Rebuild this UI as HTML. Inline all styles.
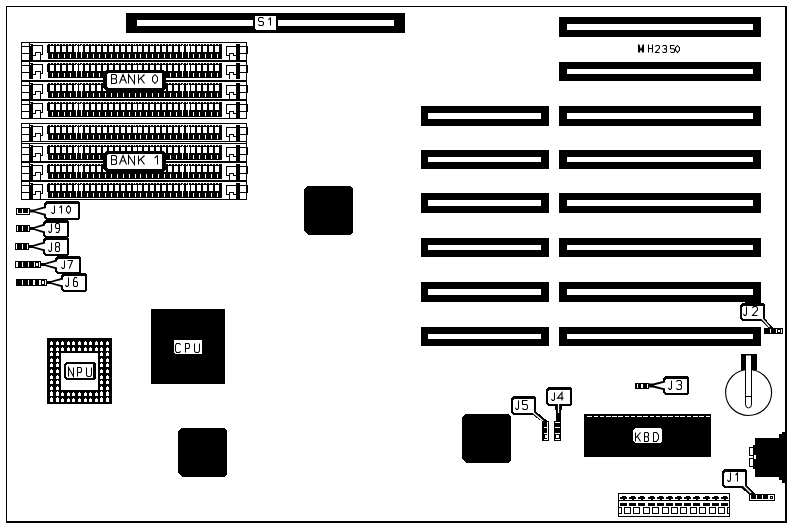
<!DOCTYPE html>
<html><head><meta charset="utf-8"><style>
html,body{margin:0;padding:0;background:#fff;}
svg{display:block;}
</style></head><body>
<svg width="791" height="527" viewBox="0 0 791 527" shape-rendering="crispEdges">
<rect x="0" y="0" width="791" height="527" fill="#fff"/>
<rect x="6" y="6" width="781" height="1" fill="#000"/>
<rect x="6" y="6" width="1" height="517" fill="#000"/>
<rect x="785" y="6" width="2" height="517" fill="#000"/>
<rect x="6" y="521" width="781" height="2" fill="#000"/>
<rect x="126" y="13" width="279" height="20" fill="#000"/>
<rect x="137" y="20" width="257" height="6" fill="#fff"/>
<rect x="253" y="17" width="25" height="15" fill="#000"/>
<polygon points="256,16 275,16 276,17 276,29 275,30 256,30 255,29 255,17" fill="#fff"/>
<rect x="255" y="16" width="21" height="5" fill="#fff"/>
<path d="M263.50,18.70 L262.50,17.50 L259.50,17.50 L258.50,18.70 L258.50,20.54 L259.50,21.50 L262.50,21.50 L263.50,22.46 L263.50,24.30 L262.50,25.50 L259.50,25.50 L258.50,24.30 M268.50,19.90 L270.50,17.50 M270.50,17.50 L270.50,25.50" fill="none" stroke="#000" stroke-width="1.05" stroke-linejoin="miter" shape-rendering="geometricPrecision"/>
<rect x="559" y="17" width="202" height="20" fill="#000"/>
<rect x="567" y="24" width="186" height="6" fill="#fff"/>
<rect x="559" y="62" width="202" height="19" fill="#000"/>
<rect x="567" y="69" width="186" height="5" fill="#fff"/>
<rect x="559" y="106" width="202" height="20" fill="#000"/>
<rect x="567" y="113" width="186" height="6" fill="#fff"/>
<rect x="421" y="106" width="128" height="20" fill="#000"/>
<rect x="428" y="113" width="113" height="6" fill="#fff"/>
<rect x="559" y="150" width="202" height="19" fill="#000"/>
<rect x="567" y="157" width="186" height="5" fill="#fff"/>
<rect x="421" y="150" width="128" height="19" fill="#000"/>
<rect x="428" y="157" width="113" height="5" fill="#fff"/>
<rect x="559" y="193" width="202" height="20" fill="#000"/>
<rect x="567" y="200" width="186" height="6" fill="#fff"/>
<rect x="421" y="193" width="128" height="20" fill="#000"/>
<rect x="428" y="200" width="113" height="6" fill="#fff"/>
<rect x="559" y="238" width="202" height="19" fill="#000"/>
<rect x="567" y="245" width="186" height="5" fill="#fff"/>
<rect x="421" y="238" width="128" height="19" fill="#000"/>
<rect x="428" y="245" width="113" height="5" fill="#fff"/>
<rect x="559" y="282" width="202" height="20" fill="#000"/>
<rect x="567" y="289" width="186" height="6" fill="#fff"/>
<rect x="421" y="282" width="128" height="20" fill="#000"/>
<rect x="428" y="289" width="113" height="6" fill="#fff"/>
<rect x="559" y="327" width="202" height="19" fill="#000"/>
<rect x="567" y="334" width="186" height="5" fill="#fff"/>
<rect x="421" y="327" width="128" height="19" fill="#000"/>
<rect x="428" y="334" width="113" height="5" fill="#fff"/>
<path d="M638.50,52.50 L638.50,44.50 L641.00,50.50 L643.50,44.50 L643.50,52.50 M639.50,45.30 L639.50,52.50 M642.50,45.30 L642.50,52.50 M648.50,44.50 L648.50,52.50 M652.50,44.50 L652.50,52.50 M648.50,48.50 L652.50,48.50" fill="none" stroke="#000" stroke-width="1.05" stroke-linejoin="miter" shape-rendering="geometricPrecision"/>
<path d="M655.50,46.76 L656.30,45.50 L658.70,45.50 L659.50,46.76 L659.50,48.16 L655.50,52.50 L659.50,52.50 M662.50,46.55 L663.30,45.50 L665.70,45.50 L666.50,46.55 L666.50,48.02 L665.70,48.86 L663.90,48.86 M665.70,48.86 L666.50,49.70 L666.50,51.45 L665.70,52.50 L663.30,52.50 L662.50,51.45 M674.50,45.50 L670.50,45.50 L670.50,48.65 L673.70,48.65 L674.50,49.70 L674.50,51.45 L673.70,52.50 L671.30,52.50 L670.50,51.45 M677.50,45.50 L679.50,47.60 L679.50,50.40 L677.50,52.50 L675.50,50.40 L675.50,47.60 L677.50,45.50" fill="none" stroke="#000" stroke-width="1.05" stroke-linejoin="miter" shape-rendering="geometricPrecision"/>
<rect x="21" y="42" width="226" height="1" fill="#000"/>
<rect x="21" y="42" width="1" height="77" fill="#000"/>
<rect x="246" y="42" width="1" height="77" fill="#000"/>
<rect x="21" y="46" width="9" height="1" fill="#000"/>
<rect x="21" y="53" width="9" height="1" fill="#000"/>
<rect x="29" y="42" width="1" height="18" fill="#000"/>
<rect x="30" y="44" width="3" height="16" fill="#000"/>
<rect x="30" y="45" width="1" height="1" fill="#fff"/>
<rect x="32" y="45" width="11" height="1" fill="#000"/>
<rect x="42" y="45" width="1" height="10" fill="#000"/>
<rect x="40" y="54" width="3" height="1" fill="#000"/>
<rect x="40" y="52" width="1" height="8" fill="#000"/>
<rect x="35" y="52" width="6" height="1" fill="#000"/>
<rect x="35" y="52" width="1" height="4" fill="#000"/>
<rect x="32" y="55" width="4" height="1" fill="#000"/>
<rect x="48" y="44" width="174" height="15" fill="#000"/>
<rect x="47" y="45" width="1" height="8" fill="#000"/>
<rect x="50" y="44" width="1" height="1" fill="#fff"/>
<rect x="53" y="44" width="1" height="1" fill="#fff"/>
<rect x="56" y="44" width="1" height="1" fill="#fff"/>
<rect x="59" y="44" width="1" height="1" fill="#fff"/>
<rect x="62" y="44" width="1" height="1" fill="#fff"/>
<rect x="65" y="44" width="1" height="1" fill="#fff"/>
<rect x="68" y="44" width="1" height="1" fill="#fff"/>
<rect x="71" y="44" width="1" height="1" fill="#fff"/>
<rect x="74" y="44" width="1" height="1" fill="#fff"/>
<rect x="77" y="44" width="1" height="1" fill="#fff"/>
<rect x="79" y="44" width="1" height="1" fill="#fff"/>
<rect x="82" y="44" width="1" height="1" fill="#fff"/>
<rect x="85" y="44" width="1" height="1" fill="#fff"/>
<rect x="88" y="44" width="1" height="1" fill="#fff"/>
<rect x="91" y="44" width="1" height="1" fill="#fff"/>
<rect x="94" y="44" width="1" height="1" fill="#fff"/>
<rect x="97" y="44" width="1" height="1" fill="#fff"/>
<rect x="100" y="44" width="1" height="1" fill="#fff"/>
<rect x="103" y="44" width="1" height="1" fill="#fff"/>
<rect x="106" y="44" width="1" height="1" fill="#fff"/>
<rect x="109" y="44" width="1" height="1" fill="#fff"/>
<rect x="112" y="44" width="1" height="1" fill="#fff"/>
<rect x="115" y="44" width="1" height="1" fill="#fff"/>
<rect x="118" y="44" width="1" height="1" fill="#fff"/>
<rect x="121" y="44" width="1" height="1" fill="#fff"/>
<rect x="124" y="44" width="1" height="1" fill="#fff"/>
<rect x="127" y="44" width="1" height="1" fill="#fff"/>
<rect x="130" y="44" width="1" height="1" fill="#fff"/>
<rect x="133" y="44" width="1" height="1" fill="#fff"/>
<rect x="135" y="44" width="1" height="1" fill="#fff"/>
<rect x="138" y="44" width="1" height="1" fill="#fff"/>
<rect x="141" y="44" width="1" height="1" fill="#fff"/>
<rect x="144" y="44" width="1" height="1" fill="#fff"/>
<rect x="147" y="44" width="1" height="1" fill="#fff"/>
<rect x="150" y="44" width="1" height="1" fill="#fff"/>
<rect x="153" y="44" width="1" height="1" fill="#fff"/>
<rect x="156" y="44" width="1" height="1" fill="#fff"/>
<rect x="159" y="44" width="1" height="1" fill="#fff"/>
<rect x="162" y="44" width="1" height="1" fill="#fff"/>
<rect x="165" y="44" width="1" height="1" fill="#fff"/>
<rect x="168" y="44" width="1" height="1" fill="#fff"/>
<rect x="171" y="44" width="1" height="1" fill="#fff"/>
<rect x="174" y="44" width="1" height="1" fill="#fff"/>
<rect x="177" y="44" width="1" height="1" fill="#fff"/>
<rect x="180" y="44" width="1" height="1" fill="#fff"/>
<rect x="183" y="44" width="1" height="1" fill="#fff"/>
<rect x="186" y="44" width="1" height="1" fill="#fff"/>
<rect x="188" y="44" width="1" height="1" fill="#fff"/>
<rect x="191" y="44" width="1" height="1" fill="#fff"/>
<rect x="194" y="44" width="1" height="1" fill="#fff"/>
<rect x="197" y="44" width="1" height="1" fill="#fff"/>
<rect x="200" y="44" width="1" height="1" fill="#fff"/>
<rect x="203" y="44" width="1" height="1" fill="#fff"/>
<rect x="206" y="44" width="1" height="1" fill="#fff"/>
<rect x="209" y="44" width="1" height="1" fill="#fff"/>
<rect x="212" y="44" width="1" height="1" fill="#fff"/>
<rect x="215" y="44" width="1" height="1" fill="#fff"/>
<rect x="218" y="44" width="1" height="1" fill="#fff"/>
<rect x="50" y="46" width="4" height="6" fill="#fff"/>
<rect x="52" y="54" width="1" height="4" fill="#fff"/>
<rect x="56" y="46" width="4" height="6" fill="#fff"/>
<rect x="58" y="54" width="1" height="4" fill="#fff"/>
<rect x="62" y="46" width="4" height="6" fill="#fff"/>
<rect x="64" y="54" width="1" height="4" fill="#fff"/>
<rect x="68" y="46" width="4" height="6" fill="#fff"/>
<rect x="70" y="54" width="1" height="4" fill="#fff"/>
<rect x="74" y="46" width="4" height="6" fill="#fff"/>
<rect x="76" y="54" width="1" height="4" fill="#fff"/>
<rect x="76" y="52" width="1" height="2" fill="#fff"/>
<rect x="76" y="45" width="1" height="1" fill="#fff"/>
<rect x="79" y="46" width="4" height="6" fill="#fff"/>
<rect x="81" y="54" width="1" height="4" fill="#fff"/>
<rect x="81" y="52" width="1" height="2" fill="#fff"/>
<rect x="81" y="45" width="1" height="1" fill="#fff"/>
<rect x="85" y="46" width="4" height="6" fill="#fff"/>
<rect x="87" y="54" width="1" height="4" fill="#fff"/>
<rect x="91" y="46" width="4" height="6" fill="#fff"/>
<rect x="93" y="54" width="1" height="4" fill="#fff"/>
<rect x="97" y="46" width="4" height="6" fill="#fff"/>
<rect x="99" y="54" width="1" height="4" fill="#fff"/>
<rect x="103" y="46" width="4" height="6" fill="#fff"/>
<rect x="105" y="54" width="1" height="4" fill="#fff"/>
<rect x="109" y="46" width="4" height="6" fill="#fff"/>
<rect x="111" y="54" width="1" height="4" fill="#fff"/>
<rect x="115" y="46" width="4" height="6" fill="#fff"/>
<rect x="117" y="54" width="1" height="4" fill="#fff"/>
<rect x="121" y="46" width="4" height="6" fill="#fff"/>
<rect x="123" y="54" width="1" height="4" fill="#fff"/>
<rect x="127" y="46" width="4" height="6" fill="#fff"/>
<rect x="129" y="54" width="1" height="4" fill="#fff"/>
<rect x="133" y="46" width="4" height="6" fill="#fff"/>
<rect x="135" y="54" width="1" height="4" fill="#fff"/>
<rect x="138" y="46" width="4" height="6" fill="#fff"/>
<rect x="140" y="54" width="1" height="4" fill="#fff"/>
<rect x="144" y="46" width="4" height="6" fill="#fff"/>
<rect x="146" y="54" width="1" height="4" fill="#fff"/>
<rect x="150" y="46" width="4" height="6" fill="#fff"/>
<rect x="152" y="54" width="1" height="4" fill="#fff"/>
<rect x="156" y="46" width="4" height="6" fill="#fff"/>
<rect x="158" y="54" width="1" height="4" fill="#fff"/>
<rect x="162" y="46" width="4" height="6" fill="#fff"/>
<rect x="164" y="54" width="1" height="4" fill="#fff"/>
<rect x="168" y="46" width="4" height="6" fill="#fff"/>
<rect x="170" y="54" width="1" height="4" fill="#fff"/>
<rect x="174" y="46" width="4" height="6" fill="#fff"/>
<rect x="176" y="54" width="1" height="4" fill="#fff"/>
<rect x="180" y="46" width="4" height="6" fill="#fff"/>
<rect x="182" y="54" width="1" height="4" fill="#fff"/>
<rect x="182" y="52" width="1" height="2" fill="#fff"/>
<rect x="182" y="45" width="1" height="1" fill="#fff"/>
<rect x="186" y="46" width="4" height="6" fill="#fff"/>
<rect x="188" y="54" width="1" height="4" fill="#fff"/>
<rect x="188" y="52" width="1" height="2" fill="#fff"/>
<rect x="188" y="45" width="1" height="1" fill="#fff"/>
<rect x="191" y="46" width="4" height="6" fill="#fff"/>
<rect x="193" y="54" width="1" height="4" fill="#fff"/>
<rect x="197" y="46" width="4" height="6" fill="#fff"/>
<rect x="199" y="54" width="1" height="4" fill="#fff"/>
<rect x="203" y="46" width="4" height="6" fill="#fff"/>
<rect x="205" y="54" width="1" height="4" fill="#fff"/>
<rect x="209" y="46" width="4" height="6" fill="#fff"/>
<rect x="211" y="54" width="1" height="4" fill="#fff"/>
<rect x="215" y="46" width="4" height="6" fill="#fff"/>
<rect x="217" y="54" width="1" height="4" fill="#fff"/>
<rect x="226" y="46" width="11" height="1" fill="#000"/>
<rect x="226" y="46" width="1" height="10" fill="#000"/>
<rect x="226" y="55" width="4" height="1" fill="#000"/>
<rect x="229" y="53" width="1" height="7" fill="#000"/>
<rect x="229" y="53" width="5" height="1" fill="#000"/>
<rect x="233" y="53" width="1" height="3" fill="#000"/>
<rect x="233" y="55" width="4" height="1" fill="#000"/>
<rect x="236" y="44" width="4" height="16" fill="#000"/>
<rect x="239" y="46" width="9" height="1" fill="#000"/>
<rect x="239" y="53" width="9" height="1" fill="#000"/>
<rect x="247" y="46" width="1" height="8" fill="#000"/>
<rect x="21" y="65" width="9" height="1" fill="#000"/>
<rect x="21" y="72" width="9" height="1" fill="#000"/>
<rect x="29" y="61" width="1" height="18" fill="#000"/>
<rect x="30" y="63" width="3" height="16" fill="#000"/>
<rect x="30" y="64" width="1" height="1" fill="#fff"/>
<rect x="32" y="64" width="11" height="1" fill="#000"/>
<rect x="42" y="64" width="1" height="10" fill="#000"/>
<rect x="40" y="73" width="3" height="1" fill="#000"/>
<rect x="40" y="71" width="1" height="8" fill="#000"/>
<rect x="35" y="71" width="6" height="1" fill="#000"/>
<rect x="35" y="71" width="1" height="4" fill="#000"/>
<rect x="32" y="74" width="4" height="1" fill="#000"/>
<rect x="48" y="63" width="174" height="15" fill="#000"/>
<rect x="47" y="64" width="1" height="8" fill="#000"/>
<rect x="50" y="63" width="1" height="1" fill="#fff"/>
<rect x="53" y="63" width="1" height="1" fill="#fff"/>
<rect x="56" y="63" width="1" height="1" fill="#fff"/>
<rect x="59" y="63" width="1" height="1" fill="#fff"/>
<rect x="62" y="63" width="1" height="1" fill="#fff"/>
<rect x="65" y="63" width="1" height="1" fill="#fff"/>
<rect x="68" y="63" width="1" height="1" fill="#fff"/>
<rect x="71" y="63" width="1" height="1" fill="#fff"/>
<rect x="74" y="63" width="1" height="1" fill="#fff"/>
<rect x="77" y="63" width="1" height="1" fill="#fff"/>
<rect x="79" y="63" width="1" height="1" fill="#fff"/>
<rect x="82" y="63" width="1" height="1" fill="#fff"/>
<rect x="85" y="63" width="1" height="1" fill="#fff"/>
<rect x="88" y="63" width="1" height="1" fill="#fff"/>
<rect x="91" y="63" width="1" height="1" fill="#fff"/>
<rect x="94" y="63" width="1" height="1" fill="#fff"/>
<rect x="97" y="63" width="1" height="1" fill="#fff"/>
<rect x="100" y="63" width="1" height="1" fill="#fff"/>
<rect x="103" y="63" width="1" height="1" fill="#fff"/>
<rect x="106" y="63" width="1" height="1" fill="#fff"/>
<rect x="109" y="63" width="1" height="1" fill="#fff"/>
<rect x="112" y="63" width="1" height="1" fill="#fff"/>
<rect x="115" y="63" width="1" height="1" fill="#fff"/>
<rect x="118" y="63" width="1" height="1" fill="#fff"/>
<rect x="121" y="63" width="1" height="1" fill="#fff"/>
<rect x="124" y="63" width="1" height="1" fill="#fff"/>
<rect x="127" y="63" width="1" height="1" fill="#fff"/>
<rect x="130" y="63" width="1" height="1" fill="#fff"/>
<rect x="133" y="63" width="1" height="1" fill="#fff"/>
<rect x="135" y="63" width="1" height="1" fill="#fff"/>
<rect x="138" y="63" width="1" height="1" fill="#fff"/>
<rect x="141" y="63" width="1" height="1" fill="#fff"/>
<rect x="144" y="63" width="1" height="1" fill="#fff"/>
<rect x="147" y="63" width="1" height="1" fill="#fff"/>
<rect x="150" y="63" width="1" height="1" fill="#fff"/>
<rect x="153" y="63" width="1" height="1" fill="#fff"/>
<rect x="156" y="63" width="1" height="1" fill="#fff"/>
<rect x="159" y="63" width="1" height="1" fill="#fff"/>
<rect x="162" y="63" width="1" height="1" fill="#fff"/>
<rect x="165" y="63" width="1" height="1" fill="#fff"/>
<rect x="168" y="63" width="1" height="1" fill="#fff"/>
<rect x="171" y="63" width="1" height="1" fill="#fff"/>
<rect x="174" y="63" width="1" height="1" fill="#fff"/>
<rect x="177" y="63" width="1" height="1" fill="#fff"/>
<rect x="180" y="63" width="1" height="1" fill="#fff"/>
<rect x="183" y="63" width="1" height="1" fill="#fff"/>
<rect x="186" y="63" width="1" height="1" fill="#fff"/>
<rect x="188" y="63" width="1" height="1" fill="#fff"/>
<rect x="191" y="63" width="1" height="1" fill="#fff"/>
<rect x="194" y="63" width="1" height="1" fill="#fff"/>
<rect x="197" y="63" width="1" height="1" fill="#fff"/>
<rect x="200" y="63" width="1" height="1" fill="#fff"/>
<rect x="203" y="63" width="1" height="1" fill="#fff"/>
<rect x="206" y="63" width="1" height="1" fill="#fff"/>
<rect x="209" y="63" width="1" height="1" fill="#fff"/>
<rect x="212" y="63" width="1" height="1" fill="#fff"/>
<rect x="215" y="63" width="1" height="1" fill="#fff"/>
<rect x="218" y="63" width="1" height="1" fill="#fff"/>
<rect x="50" y="65" width="4" height="6" fill="#fff"/>
<rect x="52" y="73" width="1" height="4" fill="#fff"/>
<rect x="56" y="65" width="4" height="6" fill="#fff"/>
<rect x="58" y="73" width="1" height="4" fill="#fff"/>
<rect x="62" y="65" width="4" height="6" fill="#fff"/>
<rect x="64" y="73" width="1" height="4" fill="#fff"/>
<rect x="68" y="65" width="4" height="6" fill="#fff"/>
<rect x="70" y="73" width="1" height="4" fill="#fff"/>
<rect x="74" y="65" width="4" height="6" fill="#fff"/>
<rect x="76" y="73" width="1" height="4" fill="#fff"/>
<rect x="76" y="71" width="1" height="2" fill="#fff"/>
<rect x="76" y="64" width="1" height="1" fill="#fff"/>
<rect x="79" y="65" width="4" height="6" fill="#fff"/>
<rect x="81" y="73" width="1" height="4" fill="#fff"/>
<rect x="81" y="71" width="1" height="2" fill="#fff"/>
<rect x="81" y="64" width="1" height="1" fill="#fff"/>
<rect x="85" y="65" width="4" height="6" fill="#fff"/>
<rect x="87" y="73" width="1" height="4" fill="#fff"/>
<rect x="91" y="65" width="4" height="6" fill="#fff"/>
<rect x="93" y="73" width="1" height="4" fill="#fff"/>
<rect x="97" y="65" width="4" height="6" fill="#fff"/>
<rect x="99" y="73" width="1" height="4" fill="#fff"/>
<rect x="103" y="65" width="4" height="6" fill="#fff"/>
<rect x="105" y="73" width="1" height="4" fill="#fff"/>
<rect x="109" y="65" width="4" height="6" fill="#fff"/>
<rect x="111" y="73" width="1" height="4" fill="#fff"/>
<rect x="115" y="65" width="4" height="6" fill="#fff"/>
<rect x="117" y="73" width="1" height="4" fill="#fff"/>
<rect x="121" y="65" width="4" height="6" fill="#fff"/>
<rect x="123" y="73" width="1" height="4" fill="#fff"/>
<rect x="127" y="65" width="4" height="6" fill="#fff"/>
<rect x="129" y="73" width="1" height="4" fill="#fff"/>
<rect x="133" y="65" width="4" height="6" fill="#fff"/>
<rect x="135" y="73" width="1" height="4" fill="#fff"/>
<rect x="138" y="65" width="4" height="6" fill="#fff"/>
<rect x="140" y="73" width="1" height="4" fill="#fff"/>
<rect x="144" y="65" width="4" height="6" fill="#fff"/>
<rect x="146" y="73" width="1" height="4" fill="#fff"/>
<rect x="150" y="65" width="4" height="6" fill="#fff"/>
<rect x="152" y="73" width="1" height="4" fill="#fff"/>
<rect x="156" y="65" width="4" height="6" fill="#fff"/>
<rect x="158" y="73" width="1" height="4" fill="#fff"/>
<rect x="162" y="65" width="4" height="6" fill="#fff"/>
<rect x="164" y="73" width="1" height="4" fill="#fff"/>
<rect x="168" y="65" width="4" height="6" fill="#fff"/>
<rect x="170" y="73" width="1" height="4" fill="#fff"/>
<rect x="174" y="65" width="4" height="6" fill="#fff"/>
<rect x="176" y="73" width="1" height="4" fill="#fff"/>
<rect x="180" y="65" width="4" height="6" fill="#fff"/>
<rect x="182" y="73" width="1" height="4" fill="#fff"/>
<rect x="182" y="71" width="1" height="2" fill="#fff"/>
<rect x="182" y="64" width="1" height="1" fill="#fff"/>
<rect x="186" y="65" width="4" height="6" fill="#fff"/>
<rect x="188" y="73" width="1" height="4" fill="#fff"/>
<rect x="188" y="71" width="1" height="2" fill="#fff"/>
<rect x="188" y="64" width="1" height="1" fill="#fff"/>
<rect x="191" y="65" width="4" height="6" fill="#fff"/>
<rect x="193" y="73" width="1" height="4" fill="#fff"/>
<rect x="197" y="65" width="4" height="6" fill="#fff"/>
<rect x="199" y="73" width="1" height="4" fill="#fff"/>
<rect x="203" y="65" width="4" height="6" fill="#fff"/>
<rect x="205" y="73" width="1" height="4" fill="#fff"/>
<rect x="209" y="65" width="4" height="6" fill="#fff"/>
<rect x="211" y="73" width="1" height="4" fill="#fff"/>
<rect x="215" y="65" width="4" height="6" fill="#fff"/>
<rect x="217" y="73" width="1" height="4" fill="#fff"/>
<rect x="226" y="65" width="11" height="1" fill="#000"/>
<rect x="226" y="65" width="1" height="10" fill="#000"/>
<rect x="226" y="74" width="4" height="1" fill="#000"/>
<rect x="229" y="72" width="1" height="7" fill="#000"/>
<rect x="229" y="72" width="5" height="1" fill="#000"/>
<rect x="233" y="72" width="1" height="3" fill="#000"/>
<rect x="233" y="74" width="4" height="1" fill="#000"/>
<rect x="236" y="63" width="4" height="16" fill="#000"/>
<rect x="239" y="65" width="9" height="1" fill="#000"/>
<rect x="239" y="72" width="9" height="1" fill="#000"/>
<rect x="247" y="65" width="1" height="8" fill="#000"/>
<rect x="21" y="85" width="9" height="1" fill="#000"/>
<rect x="21" y="92" width="9" height="1" fill="#000"/>
<rect x="29" y="81" width="1" height="18" fill="#000"/>
<rect x="30" y="83" width="3" height="16" fill="#000"/>
<rect x="30" y="84" width="1" height="1" fill="#fff"/>
<rect x="32" y="84" width="11" height="1" fill="#000"/>
<rect x="42" y="84" width="1" height="10" fill="#000"/>
<rect x="40" y="93" width="3" height="1" fill="#000"/>
<rect x="40" y="91" width="1" height="8" fill="#000"/>
<rect x="35" y="91" width="6" height="1" fill="#000"/>
<rect x="35" y="91" width="1" height="4" fill="#000"/>
<rect x="32" y="94" width="4" height="1" fill="#000"/>
<rect x="48" y="83" width="174" height="15" fill="#000"/>
<rect x="47" y="84" width="1" height="8" fill="#000"/>
<rect x="50" y="83" width="1" height="1" fill="#fff"/>
<rect x="53" y="83" width="1" height="1" fill="#fff"/>
<rect x="56" y="83" width="1" height="1" fill="#fff"/>
<rect x="59" y="83" width="1" height="1" fill="#fff"/>
<rect x="62" y="83" width="1" height="1" fill="#fff"/>
<rect x="65" y="83" width="1" height="1" fill="#fff"/>
<rect x="68" y="83" width="1" height="1" fill="#fff"/>
<rect x="71" y="83" width="1" height="1" fill="#fff"/>
<rect x="74" y="83" width="1" height="1" fill="#fff"/>
<rect x="77" y="83" width="1" height="1" fill="#fff"/>
<rect x="79" y="83" width="1" height="1" fill="#fff"/>
<rect x="82" y="83" width="1" height="1" fill="#fff"/>
<rect x="85" y="83" width="1" height="1" fill="#fff"/>
<rect x="88" y="83" width="1" height="1" fill="#fff"/>
<rect x="91" y="83" width="1" height="1" fill="#fff"/>
<rect x="94" y="83" width="1" height="1" fill="#fff"/>
<rect x="97" y="83" width="1" height="1" fill="#fff"/>
<rect x="100" y="83" width="1" height="1" fill="#fff"/>
<rect x="103" y="83" width="1" height="1" fill="#fff"/>
<rect x="106" y="83" width="1" height="1" fill="#fff"/>
<rect x="109" y="83" width="1" height="1" fill="#fff"/>
<rect x="112" y="83" width="1" height="1" fill="#fff"/>
<rect x="115" y="83" width="1" height="1" fill="#fff"/>
<rect x="118" y="83" width="1" height="1" fill="#fff"/>
<rect x="121" y="83" width="1" height="1" fill="#fff"/>
<rect x="124" y="83" width="1" height="1" fill="#fff"/>
<rect x="127" y="83" width="1" height="1" fill="#fff"/>
<rect x="130" y="83" width="1" height="1" fill="#fff"/>
<rect x="133" y="83" width="1" height="1" fill="#fff"/>
<rect x="135" y="83" width="1" height="1" fill="#fff"/>
<rect x="138" y="83" width="1" height="1" fill="#fff"/>
<rect x="141" y="83" width="1" height="1" fill="#fff"/>
<rect x="144" y="83" width="1" height="1" fill="#fff"/>
<rect x="147" y="83" width="1" height="1" fill="#fff"/>
<rect x="150" y="83" width="1" height="1" fill="#fff"/>
<rect x="153" y="83" width="1" height="1" fill="#fff"/>
<rect x="156" y="83" width="1" height="1" fill="#fff"/>
<rect x="159" y="83" width="1" height="1" fill="#fff"/>
<rect x="162" y="83" width="1" height="1" fill="#fff"/>
<rect x="165" y="83" width="1" height="1" fill="#fff"/>
<rect x="168" y="83" width="1" height="1" fill="#fff"/>
<rect x="171" y="83" width="1" height="1" fill="#fff"/>
<rect x="174" y="83" width="1" height="1" fill="#fff"/>
<rect x="177" y="83" width="1" height="1" fill="#fff"/>
<rect x="180" y="83" width="1" height="1" fill="#fff"/>
<rect x="183" y="83" width="1" height="1" fill="#fff"/>
<rect x="186" y="83" width="1" height="1" fill="#fff"/>
<rect x="188" y="83" width="1" height="1" fill="#fff"/>
<rect x="191" y="83" width="1" height="1" fill="#fff"/>
<rect x="194" y="83" width="1" height="1" fill="#fff"/>
<rect x="197" y="83" width="1" height="1" fill="#fff"/>
<rect x="200" y="83" width="1" height="1" fill="#fff"/>
<rect x="203" y="83" width="1" height="1" fill="#fff"/>
<rect x="206" y="83" width="1" height="1" fill="#fff"/>
<rect x="209" y="83" width="1" height="1" fill="#fff"/>
<rect x="212" y="83" width="1" height="1" fill="#fff"/>
<rect x="215" y="83" width="1" height="1" fill="#fff"/>
<rect x="218" y="83" width="1" height="1" fill="#fff"/>
<rect x="50" y="85" width="4" height="6" fill="#fff"/>
<rect x="52" y="93" width="1" height="4" fill="#fff"/>
<rect x="56" y="85" width="4" height="6" fill="#fff"/>
<rect x="58" y="93" width="1" height="4" fill="#fff"/>
<rect x="62" y="85" width="4" height="6" fill="#fff"/>
<rect x="64" y="93" width="1" height="4" fill="#fff"/>
<rect x="68" y="85" width="4" height="6" fill="#fff"/>
<rect x="70" y="93" width="1" height="4" fill="#fff"/>
<rect x="74" y="85" width="4" height="6" fill="#fff"/>
<rect x="76" y="93" width="1" height="4" fill="#fff"/>
<rect x="76" y="91" width="1" height="2" fill="#fff"/>
<rect x="76" y="84" width="1" height="1" fill="#fff"/>
<rect x="79" y="85" width="4" height="6" fill="#fff"/>
<rect x="81" y="93" width="1" height="4" fill="#fff"/>
<rect x="81" y="91" width="1" height="2" fill="#fff"/>
<rect x="81" y="84" width="1" height="1" fill="#fff"/>
<rect x="85" y="85" width="4" height="6" fill="#fff"/>
<rect x="87" y="93" width="1" height="4" fill="#fff"/>
<rect x="91" y="85" width="4" height="6" fill="#fff"/>
<rect x="93" y="93" width="1" height="4" fill="#fff"/>
<rect x="97" y="85" width="4" height="6" fill="#fff"/>
<rect x="99" y="93" width="1" height="4" fill="#fff"/>
<rect x="103" y="85" width="4" height="6" fill="#fff"/>
<rect x="105" y="93" width="1" height="4" fill="#fff"/>
<rect x="109" y="85" width="4" height="6" fill="#fff"/>
<rect x="111" y="93" width="1" height="4" fill="#fff"/>
<rect x="115" y="85" width="4" height="6" fill="#fff"/>
<rect x="117" y="93" width="1" height="4" fill="#fff"/>
<rect x="121" y="85" width="4" height="6" fill="#fff"/>
<rect x="123" y="93" width="1" height="4" fill="#fff"/>
<rect x="127" y="85" width="4" height="6" fill="#fff"/>
<rect x="129" y="93" width="1" height="4" fill="#fff"/>
<rect x="133" y="85" width="4" height="6" fill="#fff"/>
<rect x="135" y="93" width="1" height="4" fill="#fff"/>
<rect x="138" y="85" width="4" height="6" fill="#fff"/>
<rect x="140" y="93" width="1" height="4" fill="#fff"/>
<rect x="144" y="85" width="4" height="6" fill="#fff"/>
<rect x="146" y="93" width="1" height="4" fill="#fff"/>
<rect x="150" y="85" width="4" height="6" fill="#fff"/>
<rect x="152" y="93" width="1" height="4" fill="#fff"/>
<rect x="156" y="85" width="4" height="6" fill="#fff"/>
<rect x="158" y="93" width="1" height="4" fill="#fff"/>
<rect x="162" y="85" width="4" height="6" fill="#fff"/>
<rect x="164" y="93" width="1" height="4" fill="#fff"/>
<rect x="168" y="85" width="4" height="6" fill="#fff"/>
<rect x="170" y="93" width="1" height="4" fill="#fff"/>
<rect x="174" y="85" width="4" height="6" fill="#fff"/>
<rect x="176" y="93" width="1" height="4" fill="#fff"/>
<rect x="180" y="85" width="4" height="6" fill="#fff"/>
<rect x="182" y="93" width="1" height="4" fill="#fff"/>
<rect x="182" y="91" width="1" height="2" fill="#fff"/>
<rect x="182" y="84" width="1" height="1" fill="#fff"/>
<rect x="186" y="85" width="4" height="6" fill="#fff"/>
<rect x="188" y="93" width="1" height="4" fill="#fff"/>
<rect x="188" y="91" width="1" height="2" fill="#fff"/>
<rect x="188" y="84" width="1" height="1" fill="#fff"/>
<rect x="191" y="85" width="4" height="6" fill="#fff"/>
<rect x="193" y="93" width="1" height="4" fill="#fff"/>
<rect x="197" y="85" width="4" height="6" fill="#fff"/>
<rect x="199" y="93" width="1" height="4" fill="#fff"/>
<rect x="203" y="85" width="4" height="6" fill="#fff"/>
<rect x="205" y="93" width="1" height="4" fill="#fff"/>
<rect x="209" y="85" width="4" height="6" fill="#fff"/>
<rect x="211" y="93" width="1" height="4" fill="#fff"/>
<rect x="215" y="85" width="4" height="6" fill="#fff"/>
<rect x="217" y="93" width="1" height="4" fill="#fff"/>
<rect x="226" y="85" width="11" height="1" fill="#000"/>
<rect x="226" y="85" width="1" height="10" fill="#000"/>
<rect x="226" y="94" width="4" height="1" fill="#000"/>
<rect x="229" y="92" width="1" height="7" fill="#000"/>
<rect x="229" y="92" width="5" height="1" fill="#000"/>
<rect x="233" y="92" width="1" height="3" fill="#000"/>
<rect x="233" y="94" width="4" height="1" fill="#000"/>
<rect x="236" y="83" width="4" height="16" fill="#000"/>
<rect x="239" y="85" width="9" height="1" fill="#000"/>
<rect x="239" y="92" width="9" height="1" fill="#000"/>
<rect x="247" y="85" width="1" height="8" fill="#000"/>
<rect x="21" y="104" width="9" height="1" fill="#000"/>
<rect x="21" y="111" width="9" height="1" fill="#000"/>
<rect x="29" y="100" width="1" height="18" fill="#000"/>
<rect x="30" y="102" width="3" height="16" fill="#000"/>
<rect x="30" y="103" width="1" height="1" fill="#fff"/>
<rect x="32" y="103" width="11" height="1" fill="#000"/>
<rect x="42" y="103" width="1" height="10" fill="#000"/>
<rect x="40" y="112" width="3" height="1" fill="#000"/>
<rect x="40" y="110" width="1" height="8" fill="#000"/>
<rect x="35" y="110" width="6" height="1" fill="#000"/>
<rect x="35" y="110" width="1" height="4" fill="#000"/>
<rect x="32" y="113" width="4" height="1" fill="#000"/>
<rect x="48" y="102" width="174" height="15" fill="#000"/>
<rect x="47" y="103" width="1" height="8" fill="#000"/>
<rect x="50" y="102" width="1" height="1" fill="#fff"/>
<rect x="53" y="102" width="1" height="1" fill="#fff"/>
<rect x="56" y="102" width="1" height="1" fill="#fff"/>
<rect x="59" y="102" width="1" height="1" fill="#fff"/>
<rect x="62" y="102" width="1" height="1" fill="#fff"/>
<rect x="65" y="102" width="1" height="1" fill="#fff"/>
<rect x="68" y="102" width="1" height="1" fill="#fff"/>
<rect x="71" y="102" width="1" height="1" fill="#fff"/>
<rect x="74" y="102" width="1" height="1" fill="#fff"/>
<rect x="77" y="102" width="1" height="1" fill="#fff"/>
<rect x="79" y="102" width="1" height="1" fill="#fff"/>
<rect x="82" y="102" width="1" height="1" fill="#fff"/>
<rect x="85" y="102" width="1" height="1" fill="#fff"/>
<rect x="88" y="102" width="1" height="1" fill="#fff"/>
<rect x="91" y="102" width="1" height="1" fill="#fff"/>
<rect x="94" y="102" width="1" height="1" fill="#fff"/>
<rect x="97" y="102" width="1" height="1" fill="#fff"/>
<rect x="100" y="102" width="1" height="1" fill="#fff"/>
<rect x="103" y="102" width="1" height="1" fill="#fff"/>
<rect x="106" y="102" width="1" height="1" fill="#fff"/>
<rect x="109" y="102" width="1" height="1" fill="#fff"/>
<rect x="112" y="102" width="1" height="1" fill="#fff"/>
<rect x="115" y="102" width="1" height="1" fill="#fff"/>
<rect x="118" y="102" width="1" height="1" fill="#fff"/>
<rect x="121" y="102" width="1" height="1" fill="#fff"/>
<rect x="124" y="102" width="1" height="1" fill="#fff"/>
<rect x="127" y="102" width="1" height="1" fill="#fff"/>
<rect x="130" y="102" width="1" height="1" fill="#fff"/>
<rect x="133" y="102" width="1" height="1" fill="#fff"/>
<rect x="135" y="102" width="1" height="1" fill="#fff"/>
<rect x="138" y="102" width="1" height="1" fill="#fff"/>
<rect x="141" y="102" width="1" height="1" fill="#fff"/>
<rect x="144" y="102" width="1" height="1" fill="#fff"/>
<rect x="147" y="102" width="1" height="1" fill="#fff"/>
<rect x="150" y="102" width="1" height="1" fill="#fff"/>
<rect x="153" y="102" width="1" height="1" fill="#fff"/>
<rect x="156" y="102" width="1" height="1" fill="#fff"/>
<rect x="159" y="102" width="1" height="1" fill="#fff"/>
<rect x="162" y="102" width="1" height="1" fill="#fff"/>
<rect x="165" y="102" width="1" height="1" fill="#fff"/>
<rect x="168" y="102" width="1" height="1" fill="#fff"/>
<rect x="171" y="102" width="1" height="1" fill="#fff"/>
<rect x="174" y="102" width="1" height="1" fill="#fff"/>
<rect x="177" y="102" width="1" height="1" fill="#fff"/>
<rect x="180" y="102" width="1" height="1" fill="#fff"/>
<rect x="183" y="102" width="1" height="1" fill="#fff"/>
<rect x="186" y="102" width="1" height="1" fill="#fff"/>
<rect x="188" y="102" width="1" height="1" fill="#fff"/>
<rect x="191" y="102" width="1" height="1" fill="#fff"/>
<rect x="194" y="102" width="1" height="1" fill="#fff"/>
<rect x="197" y="102" width="1" height="1" fill="#fff"/>
<rect x="200" y="102" width="1" height="1" fill="#fff"/>
<rect x="203" y="102" width="1" height="1" fill="#fff"/>
<rect x="206" y="102" width="1" height="1" fill="#fff"/>
<rect x="209" y="102" width="1" height="1" fill="#fff"/>
<rect x="212" y="102" width="1" height="1" fill="#fff"/>
<rect x="215" y="102" width="1" height="1" fill="#fff"/>
<rect x="218" y="102" width="1" height="1" fill="#fff"/>
<rect x="50" y="104" width="4" height="6" fill="#fff"/>
<rect x="52" y="112" width="1" height="4" fill="#fff"/>
<rect x="56" y="104" width="4" height="6" fill="#fff"/>
<rect x="58" y="112" width="1" height="4" fill="#fff"/>
<rect x="62" y="104" width="4" height="6" fill="#fff"/>
<rect x="64" y="112" width="1" height="4" fill="#fff"/>
<rect x="68" y="104" width="4" height="6" fill="#fff"/>
<rect x="70" y="112" width="1" height="4" fill="#fff"/>
<rect x="74" y="104" width="4" height="6" fill="#fff"/>
<rect x="76" y="112" width="1" height="4" fill="#fff"/>
<rect x="76" y="110" width="1" height="2" fill="#fff"/>
<rect x="76" y="103" width="1" height="1" fill="#fff"/>
<rect x="79" y="104" width="4" height="6" fill="#fff"/>
<rect x="81" y="112" width="1" height="4" fill="#fff"/>
<rect x="81" y="110" width="1" height="2" fill="#fff"/>
<rect x="81" y="103" width="1" height="1" fill="#fff"/>
<rect x="85" y="104" width="4" height="6" fill="#fff"/>
<rect x="87" y="112" width="1" height="4" fill="#fff"/>
<rect x="91" y="104" width="4" height="6" fill="#fff"/>
<rect x="93" y="112" width="1" height="4" fill="#fff"/>
<rect x="97" y="104" width="4" height="6" fill="#fff"/>
<rect x="99" y="112" width="1" height="4" fill="#fff"/>
<rect x="103" y="104" width="4" height="6" fill="#fff"/>
<rect x="105" y="112" width="1" height="4" fill="#fff"/>
<rect x="109" y="104" width="4" height="6" fill="#fff"/>
<rect x="111" y="112" width="1" height="4" fill="#fff"/>
<rect x="115" y="104" width="4" height="6" fill="#fff"/>
<rect x="117" y="112" width="1" height="4" fill="#fff"/>
<rect x="121" y="104" width="4" height="6" fill="#fff"/>
<rect x="123" y="112" width="1" height="4" fill="#fff"/>
<rect x="127" y="104" width="4" height="6" fill="#fff"/>
<rect x="129" y="112" width="1" height="4" fill="#fff"/>
<rect x="133" y="104" width="4" height="6" fill="#fff"/>
<rect x="135" y="112" width="1" height="4" fill="#fff"/>
<rect x="138" y="104" width="4" height="6" fill="#fff"/>
<rect x="140" y="112" width="1" height="4" fill="#fff"/>
<rect x="144" y="104" width="4" height="6" fill="#fff"/>
<rect x="146" y="112" width="1" height="4" fill="#fff"/>
<rect x="150" y="104" width="4" height="6" fill="#fff"/>
<rect x="152" y="112" width="1" height="4" fill="#fff"/>
<rect x="156" y="104" width="4" height="6" fill="#fff"/>
<rect x="158" y="112" width="1" height="4" fill="#fff"/>
<rect x="162" y="104" width="4" height="6" fill="#fff"/>
<rect x="164" y="112" width="1" height="4" fill="#fff"/>
<rect x="168" y="104" width="4" height="6" fill="#fff"/>
<rect x="170" y="112" width="1" height="4" fill="#fff"/>
<rect x="174" y="104" width="4" height="6" fill="#fff"/>
<rect x="176" y="112" width="1" height="4" fill="#fff"/>
<rect x="180" y="104" width="4" height="6" fill="#fff"/>
<rect x="182" y="112" width="1" height="4" fill="#fff"/>
<rect x="182" y="110" width="1" height="2" fill="#fff"/>
<rect x="182" y="103" width="1" height="1" fill="#fff"/>
<rect x="186" y="104" width="4" height="6" fill="#fff"/>
<rect x="188" y="112" width="1" height="4" fill="#fff"/>
<rect x="188" y="110" width="1" height="2" fill="#fff"/>
<rect x="188" y="103" width="1" height="1" fill="#fff"/>
<rect x="191" y="104" width="4" height="6" fill="#fff"/>
<rect x="193" y="112" width="1" height="4" fill="#fff"/>
<rect x="197" y="104" width="4" height="6" fill="#fff"/>
<rect x="199" y="112" width="1" height="4" fill="#fff"/>
<rect x="203" y="104" width="4" height="6" fill="#fff"/>
<rect x="205" y="112" width="1" height="4" fill="#fff"/>
<rect x="209" y="104" width="4" height="6" fill="#fff"/>
<rect x="211" y="112" width="1" height="4" fill="#fff"/>
<rect x="215" y="104" width="4" height="6" fill="#fff"/>
<rect x="217" y="112" width="1" height="4" fill="#fff"/>
<rect x="226" y="104" width="11" height="1" fill="#000"/>
<rect x="226" y="104" width="1" height="10" fill="#000"/>
<rect x="226" y="113" width="4" height="1" fill="#000"/>
<rect x="229" y="111" width="1" height="7" fill="#000"/>
<rect x="229" y="111" width="5" height="1" fill="#000"/>
<rect x="233" y="111" width="1" height="3" fill="#000"/>
<rect x="233" y="113" width="4" height="1" fill="#000"/>
<rect x="236" y="102" width="4" height="16" fill="#000"/>
<rect x="239" y="104" width="9" height="1" fill="#000"/>
<rect x="239" y="111" width="9" height="1" fill="#000"/>
<rect x="247" y="104" width="1" height="8" fill="#000"/>
<rect x="21" y="60" width="226" height="1" fill="#000"/>
<rect x="21" y="61" width="226" height="1" fill="#000"/>
<rect x="21" y="80" width="226" height="1" fill="#000"/>
<rect x="21" y="81" width="226" height="1" fill="#000"/>
<rect x="21" y="99" width="226" height="1" fill="#000"/>
<rect x="21" y="100" width="226" height="1" fill="#000"/>
<rect x="21" y="118" width="226" height="1" fill="#000"/>
<polygon points="106,70 163,70 166,73 166,88 163,91 106,91 103,88 103,73" fill="#000"/>
<polygon points="108,73 161,73 162,74 162,87 161,88 108,88 107,87 107,74" fill="#fff"/>
<path d="M111.50,74.50 L115.25,74.50 L116.50,75.58 L116.50,77.74 L115.25,78.82 L111.50,78.82 M115.25,78.82 L116.50,79.90 L116.50,82.42 L115.25,83.50 L111.50,83.50 L111.50,74.50 M119.50,83.50 L123.00,74.50 L126.50,83.50 M120.90,80.08 L125.10,80.08 M128.50,83.50 L128.50,74.50 L134.50,83.50 L134.50,74.50 M138.50,74.50 L138.50,83.50 M144.50,74.50 L138.50,80.08 M140.60,78.10 L144.50,83.50 M155.00,74.50 L157.50,77.20 L157.50,80.80 L155.00,83.50 L152.50,80.80 L152.50,77.20 L155.00,74.50" fill="none" stroke="#000" stroke-width="1.05" stroke-linejoin="miter" shape-rendering="geometricPrecision"/>
<rect x="21" y="123" width="226" height="1" fill="#000"/>
<rect x="21" y="123" width="1" height="77" fill="#000"/>
<rect x="246" y="123" width="1" height="77" fill="#000"/>
<rect x="21" y="127" width="9" height="1" fill="#000"/>
<rect x="21" y="134" width="9" height="1" fill="#000"/>
<rect x="29" y="123" width="1" height="18" fill="#000"/>
<rect x="30" y="125" width="3" height="16" fill="#000"/>
<rect x="30" y="126" width="1" height="1" fill="#fff"/>
<rect x="32" y="126" width="11" height="1" fill="#000"/>
<rect x="42" y="126" width="1" height="10" fill="#000"/>
<rect x="40" y="135" width="3" height="1" fill="#000"/>
<rect x="40" y="133" width="1" height="8" fill="#000"/>
<rect x="35" y="133" width="6" height="1" fill="#000"/>
<rect x="35" y="133" width="1" height="4" fill="#000"/>
<rect x="32" y="136" width="4" height="1" fill="#000"/>
<rect x="48" y="125" width="174" height="15" fill="#000"/>
<rect x="47" y="126" width="1" height="8" fill="#000"/>
<rect x="50" y="125" width="1" height="1" fill="#fff"/>
<rect x="53" y="125" width="1" height="1" fill="#fff"/>
<rect x="56" y="125" width="1" height="1" fill="#fff"/>
<rect x="59" y="125" width="1" height="1" fill="#fff"/>
<rect x="62" y="125" width="1" height="1" fill="#fff"/>
<rect x="65" y="125" width="1" height="1" fill="#fff"/>
<rect x="68" y="125" width="1" height="1" fill="#fff"/>
<rect x="71" y="125" width="1" height="1" fill="#fff"/>
<rect x="74" y="125" width="1" height="1" fill="#fff"/>
<rect x="77" y="125" width="1" height="1" fill="#fff"/>
<rect x="79" y="125" width="1" height="1" fill="#fff"/>
<rect x="82" y="125" width="1" height="1" fill="#fff"/>
<rect x="85" y="125" width="1" height="1" fill="#fff"/>
<rect x="88" y="125" width="1" height="1" fill="#fff"/>
<rect x="91" y="125" width="1" height="1" fill="#fff"/>
<rect x="94" y="125" width="1" height="1" fill="#fff"/>
<rect x="97" y="125" width="1" height="1" fill="#fff"/>
<rect x="100" y="125" width="1" height="1" fill="#fff"/>
<rect x="103" y="125" width="1" height="1" fill="#fff"/>
<rect x="106" y="125" width="1" height="1" fill="#fff"/>
<rect x="109" y="125" width="1" height="1" fill="#fff"/>
<rect x="112" y="125" width="1" height="1" fill="#fff"/>
<rect x="115" y="125" width="1" height="1" fill="#fff"/>
<rect x="118" y="125" width="1" height="1" fill="#fff"/>
<rect x="121" y="125" width="1" height="1" fill="#fff"/>
<rect x="124" y="125" width="1" height="1" fill="#fff"/>
<rect x="127" y="125" width="1" height="1" fill="#fff"/>
<rect x="130" y="125" width="1" height="1" fill="#fff"/>
<rect x="133" y="125" width="1" height="1" fill="#fff"/>
<rect x="135" y="125" width="1" height="1" fill="#fff"/>
<rect x="138" y="125" width="1" height="1" fill="#fff"/>
<rect x="141" y="125" width="1" height="1" fill="#fff"/>
<rect x="144" y="125" width="1" height="1" fill="#fff"/>
<rect x="147" y="125" width="1" height="1" fill="#fff"/>
<rect x="150" y="125" width="1" height="1" fill="#fff"/>
<rect x="153" y="125" width="1" height="1" fill="#fff"/>
<rect x="156" y="125" width="1" height="1" fill="#fff"/>
<rect x="159" y="125" width="1" height="1" fill="#fff"/>
<rect x="162" y="125" width="1" height="1" fill="#fff"/>
<rect x="165" y="125" width="1" height="1" fill="#fff"/>
<rect x="168" y="125" width="1" height="1" fill="#fff"/>
<rect x="171" y="125" width="1" height="1" fill="#fff"/>
<rect x="174" y="125" width="1" height="1" fill="#fff"/>
<rect x="177" y="125" width="1" height="1" fill="#fff"/>
<rect x="180" y="125" width="1" height="1" fill="#fff"/>
<rect x="183" y="125" width="1" height="1" fill="#fff"/>
<rect x="186" y="125" width="1" height="1" fill="#fff"/>
<rect x="188" y="125" width="1" height="1" fill="#fff"/>
<rect x="191" y="125" width="1" height="1" fill="#fff"/>
<rect x="194" y="125" width="1" height="1" fill="#fff"/>
<rect x="197" y="125" width="1" height="1" fill="#fff"/>
<rect x="200" y="125" width="1" height="1" fill="#fff"/>
<rect x="203" y="125" width="1" height="1" fill="#fff"/>
<rect x="206" y="125" width="1" height="1" fill="#fff"/>
<rect x="209" y="125" width="1" height="1" fill="#fff"/>
<rect x="212" y="125" width="1" height="1" fill="#fff"/>
<rect x="215" y="125" width="1" height="1" fill="#fff"/>
<rect x="218" y="125" width="1" height="1" fill="#fff"/>
<rect x="50" y="127" width="4" height="6" fill="#fff"/>
<rect x="52" y="135" width="1" height="4" fill="#fff"/>
<rect x="56" y="127" width="4" height="6" fill="#fff"/>
<rect x="58" y="135" width="1" height="4" fill="#fff"/>
<rect x="62" y="127" width="4" height="6" fill="#fff"/>
<rect x="64" y="135" width="1" height="4" fill="#fff"/>
<rect x="68" y="127" width="4" height="6" fill="#fff"/>
<rect x="70" y="135" width="1" height="4" fill="#fff"/>
<rect x="74" y="127" width="4" height="6" fill="#fff"/>
<rect x="76" y="135" width="1" height="4" fill="#fff"/>
<rect x="76" y="133" width="1" height="2" fill="#fff"/>
<rect x="76" y="126" width="1" height="1" fill="#fff"/>
<rect x="79" y="127" width="4" height="6" fill="#fff"/>
<rect x="81" y="135" width="1" height="4" fill="#fff"/>
<rect x="81" y="133" width="1" height="2" fill="#fff"/>
<rect x="81" y="126" width="1" height="1" fill="#fff"/>
<rect x="85" y="127" width="4" height="6" fill="#fff"/>
<rect x="87" y="135" width="1" height="4" fill="#fff"/>
<rect x="91" y="127" width="4" height="6" fill="#fff"/>
<rect x="93" y="135" width="1" height="4" fill="#fff"/>
<rect x="97" y="127" width="4" height="6" fill="#fff"/>
<rect x="99" y="135" width="1" height="4" fill="#fff"/>
<rect x="103" y="127" width="4" height="6" fill="#fff"/>
<rect x="105" y="135" width="1" height="4" fill="#fff"/>
<rect x="109" y="127" width="4" height="6" fill="#fff"/>
<rect x="111" y="135" width="1" height="4" fill="#fff"/>
<rect x="115" y="127" width="4" height="6" fill="#fff"/>
<rect x="117" y="135" width="1" height="4" fill="#fff"/>
<rect x="121" y="127" width="4" height="6" fill="#fff"/>
<rect x="123" y="135" width="1" height="4" fill="#fff"/>
<rect x="127" y="127" width="4" height="6" fill="#fff"/>
<rect x="129" y="135" width="1" height="4" fill="#fff"/>
<rect x="133" y="127" width="4" height="6" fill="#fff"/>
<rect x="135" y="135" width="1" height="4" fill="#fff"/>
<rect x="138" y="127" width="4" height="6" fill="#fff"/>
<rect x="140" y="135" width="1" height="4" fill="#fff"/>
<rect x="144" y="127" width="4" height="6" fill="#fff"/>
<rect x="146" y="135" width="1" height="4" fill="#fff"/>
<rect x="150" y="127" width="4" height="6" fill="#fff"/>
<rect x="152" y="135" width="1" height="4" fill="#fff"/>
<rect x="156" y="127" width="4" height="6" fill="#fff"/>
<rect x="158" y="135" width="1" height="4" fill="#fff"/>
<rect x="162" y="127" width="4" height="6" fill="#fff"/>
<rect x="164" y="135" width="1" height="4" fill="#fff"/>
<rect x="168" y="127" width="4" height="6" fill="#fff"/>
<rect x="170" y="135" width="1" height="4" fill="#fff"/>
<rect x="174" y="127" width="4" height="6" fill="#fff"/>
<rect x="176" y="135" width="1" height="4" fill="#fff"/>
<rect x="180" y="127" width="4" height="6" fill="#fff"/>
<rect x="182" y="135" width="1" height="4" fill="#fff"/>
<rect x="182" y="133" width="1" height="2" fill="#fff"/>
<rect x="182" y="126" width="1" height="1" fill="#fff"/>
<rect x="186" y="127" width="4" height="6" fill="#fff"/>
<rect x="188" y="135" width="1" height="4" fill="#fff"/>
<rect x="188" y="133" width="1" height="2" fill="#fff"/>
<rect x="188" y="126" width="1" height="1" fill="#fff"/>
<rect x="191" y="127" width="4" height="6" fill="#fff"/>
<rect x="193" y="135" width="1" height="4" fill="#fff"/>
<rect x="197" y="127" width="4" height="6" fill="#fff"/>
<rect x="199" y="135" width="1" height="4" fill="#fff"/>
<rect x="203" y="127" width="4" height="6" fill="#fff"/>
<rect x="205" y="135" width="1" height="4" fill="#fff"/>
<rect x="209" y="127" width="4" height="6" fill="#fff"/>
<rect x="211" y="135" width="1" height="4" fill="#fff"/>
<rect x="215" y="127" width="4" height="6" fill="#fff"/>
<rect x="217" y="135" width="1" height="4" fill="#fff"/>
<rect x="226" y="127" width="11" height="1" fill="#000"/>
<rect x="226" y="127" width="1" height="10" fill="#000"/>
<rect x="226" y="136" width="4" height="1" fill="#000"/>
<rect x="229" y="134" width="1" height="7" fill="#000"/>
<rect x="229" y="134" width="5" height="1" fill="#000"/>
<rect x="233" y="134" width="1" height="3" fill="#000"/>
<rect x="233" y="136" width="4" height="1" fill="#000"/>
<rect x="236" y="125" width="4" height="16" fill="#000"/>
<rect x="239" y="127" width="9" height="1" fill="#000"/>
<rect x="239" y="134" width="9" height="1" fill="#000"/>
<rect x="247" y="127" width="1" height="8" fill="#000"/>
<rect x="21" y="147" width="9" height="1" fill="#000"/>
<rect x="21" y="154" width="9" height="1" fill="#000"/>
<rect x="29" y="143" width="1" height="18" fill="#000"/>
<rect x="30" y="145" width="3" height="16" fill="#000"/>
<rect x="30" y="146" width="1" height="1" fill="#fff"/>
<rect x="32" y="146" width="11" height="1" fill="#000"/>
<rect x="42" y="146" width="1" height="10" fill="#000"/>
<rect x="40" y="155" width="3" height="1" fill="#000"/>
<rect x="40" y="153" width="1" height="8" fill="#000"/>
<rect x="35" y="153" width="6" height="1" fill="#000"/>
<rect x="35" y="153" width="1" height="4" fill="#000"/>
<rect x="32" y="156" width="4" height="1" fill="#000"/>
<rect x="48" y="145" width="174" height="15" fill="#000"/>
<rect x="47" y="146" width="1" height="8" fill="#000"/>
<rect x="50" y="145" width="1" height="1" fill="#fff"/>
<rect x="53" y="145" width="1" height="1" fill="#fff"/>
<rect x="56" y="145" width="1" height="1" fill="#fff"/>
<rect x="59" y="145" width="1" height="1" fill="#fff"/>
<rect x="62" y="145" width="1" height="1" fill="#fff"/>
<rect x="65" y="145" width="1" height="1" fill="#fff"/>
<rect x="68" y="145" width="1" height="1" fill="#fff"/>
<rect x="71" y="145" width="1" height="1" fill="#fff"/>
<rect x="74" y="145" width="1" height="1" fill="#fff"/>
<rect x="77" y="145" width="1" height="1" fill="#fff"/>
<rect x="79" y="145" width="1" height="1" fill="#fff"/>
<rect x="82" y="145" width="1" height="1" fill="#fff"/>
<rect x="85" y="145" width="1" height="1" fill="#fff"/>
<rect x="88" y="145" width="1" height="1" fill="#fff"/>
<rect x="91" y="145" width="1" height="1" fill="#fff"/>
<rect x="94" y="145" width="1" height="1" fill="#fff"/>
<rect x="97" y="145" width="1" height="1" fill="#fff"/>
<rect x="100" y="145" width="1" height="1" fill="#fff"/>
<rect x="103" y="145" width="1" height="1" fill="#fff"/>
<rect x="106" y="145" width="1" height="1" fill="#fff"/>
<rect x="109" y="145" width="1" height="1" fill="#fff"/>
<rect x="112" y="145" width="1" height="1" fill="#fff"/>
<rect x="115" y="145" width="1" height="1" fill="#fff"/>
<rect x="118" y="145" width="1" height="1" fill="#fff"/>
<rect x="121" y="145" width="1" height="1" fill="#fff"/>
<rect x="124" y="145" width="1" height="1" fill="#fff"/>
<rect x="127" y="145" width="1" height="1" fill="#fff"/>
<rect x="130" y="145" width="1" height="1" fill="#fff"/>
<rect x="133" y="145" width="1" height="1" fill="#fff"/>
<rect x="135" y="145" width="1" height="1" fill="#fff"/>
<rect x="138" y="145" width="1" height="1" fill="#fff"/>
<rect x="141" y="145" width="1" height="1" fill="#fff"/>
<rect x="144" y="145" width="1" height="1" fill="#fff"/>
<rect x="147" y="145" width="1" height="1" fill="#fff"/>
<rect x="150" y="145" width="1" height="1" fill="#fff"/>
<rect x="153" y="145" width="1" height="1" fill="#fff"/>
<rect x="156" y="145" width="1" height="1" fill="#fff"/>
<rect x="159" y="145" width="1" height="1" fill="#fff"/>
<rect x="162" y="145" width="1" height="1" fill="#fff"/>
<rect x="165" y="145" width="1" height="1" fill="#fff"/>
<rect x="168" y="145" width="1" height="1" fill="#fff"/>
<rect x="171" y="145" width="1" height="1" fill="#fff"/>
<rect x="174" y="145" width="1" height="1" fill="#fff"/>
<rect x="177" y="145" width="1" height="1" fill="#fff"/>
<rect x="180" y="145" width="1" height="1" fill="#fff"/>
<rect x="183" y="145" width="1" height="1" fill="#fff"/>
<rect x="186" y="145" width="1" height="1" fill="#fff"/>
<rect x="188" y="145" width="1" height="1" fill="#fff"/>
<rect x="191" y="145" width="1" height="1" fill="#fff"/>
<rect x="194" y="145" width="1" height="1" fill="#fff"/>
<rect x="197" y="145" width="1" height="1" fill="#fff"/>
<rect x="200" y="145" width="1" height="1" fill="#fff"/>
<rect x="203" y="145" width="1" height="1" fill="#fff"/>
<rect x="206" y="145" width="1" height="1" fill="#fff"/>
<rect x="209" y="145" width="1" height="1" fill="#fff"/>
<rect x="212" y="145" width="1" height="1" fill="#fff"/>
<rect x="215" y="145" width="1" height="1" fill="#fff"/>
<rect x="218" y="145" width="1" height="1" fill="#fff"/>
<rect x="50" y="147" width="4" height="6" fill="#fff"/>
<rect x="52" y="155" width="1" height="4" fill="#fff"/>
<rect x="56" y="147" width="4" height="6" fill="#fff"/>
<rect x="58" y="155" width="1" height="4" fill="#fff"/>
<rect x="62" y="147" width="4" height="6" fill="#fff"/>
<rect x="64" y="155" width="1" height="4" fill="#fff"/>
<rect x="68" y="147" width="4" height="6" fill="#fff"/>
<rect x="70" y="155" width="1" height="4" fill="#fff"/>
<rect x="74" y="147" width="4" height="6" fill="#fff"/>
<rect x="76" y="155" width="1" height="4" fill="#fff"/>
<rect x="76" y="153" width="1" height="2" fill="#fff"/>
<rect x="76" y="146" width="1" height="1" fill="#fff"/>
<rect x="79" y="147" width="4" height="6" fill="#fff"/>
<rect x="81" y="155" width="1" height="4" fill="#fff"/>
<rect x="81" y="153" width="1" height="2" fill="#fff"/>
<rect x="81" y="146" width="1" height="1" fill="#fff"/>
<rect x="85" y="147" width="4" height="6" fill="#fff"/>
<rect x="87" y="155" width="1" height="4" fill="#fff"/>
<rect x="91" y="147" width="4" height="6" fill="#fff"/>
<rect x="93" y="155" width="1" height="4" fill="#fff"/>
<rect x="97" y="147" width="4" height="6" fill="#fff"/>
<rect x="99" y="155" width="1" height="4" fill="#fff"/>
<rect x="103" y="147" width="4" height="6" fill="#fff"/>
<rect x="105" y="155" width="1" height="4" fill="#fff"/>
<rect x="109" y="147" width="4" height="6" fill="#fff"/>
<rect x="111" y="155" width="1" height="4" fill="#fff"/>
<rect x="115" y="147" width="4" height="6" fill="#fff"/>
<rect x="117" y="155" width="1" height="4" fill="#fff"/>
<rect x="121" y="147" width="4" height="6" fill="#fff"/>
<rect x="123" y="155" width="1" height="4" fill="#fff"/>
<rect x="127" y="147" width="4" height="6" fill="#fff"/>
<rect x="129" y="155" width="1" height="4" fill="#fff"/>
<rect x="133" y="147" width="4" height="6" fill="#fff"/>
<rect x="135" y="155" width="1" height="4" fill="#fff"/>
<rect x="138" y="147" width="4" height="6" fill="#fff"/>
<rect x="140" y="155" width="1" height="4" fill="#fff"/>
<rect x="144" y="147" width="4" height="6" fill="#fff"/>
<rect x="146" y="155" width="1" height="4" fill="#fff"/>
<rect x="150" y="147" width="4" height="6" fill="#fff"/>
<rect x="152" y="155" width="1" height="4" fill="#fff"/>
<rect x="156" y="147" width="4" height="6" fill="#fff"/>
<rect x="158" y="155" width="1" height="4" fill="#fff"/>
<rect x="162" y="147" width="4" height="6" fill="#fff"/>
<rect x="164" y="155" width="1" height="4" fill="#fff"/>
<rect x="168" y="147" width="4" height="6" fill="#fff"/>
<rect x="170" y="155" width="1" height="4" fill="#fff"/>
<rect x="174" y="147" width="4" height="6" fill="#fff"/>
<rect x="176" y="155" width="1" height="4" fill="#fff"/>
<rect x="180" y="147" width="4" height="6" fill="#fff"/>
<rect x="182" y="155" width="1" height="4" fill="#fff"/>
<rect x="182" y="153" width="1" height="2" fill="#fff"/>
<rect x="182" y="146" width="1" height="1" fill="#fff"/>
<rect x="186" y="147" width="4" height="6" fill="#fff"/>
<rect x="188" y="155" width="1" height="4" fill="#fff"/>
<rect x="188" y="153" width="1" height="2" fill="#fff"/>
<rect x="188" y="146" width="1" height="1" fill="#fff"/>
<rect x="191" y="147" width="4" height="6" fill="#fff"/>
<rect x="193" y="155" width="1" height="4" fill="#fff"/>
<rect x="197" y="147" width="4" height="6" fill="#fff"/>
<rect x="199" y="155" width="1" height="4" fill="#fff"/>
<rect x="203" y="147" width="4" height="6" fill="#fff"/>
<rect x="205" y="155" width="1" height="4" fill="#fff"/>
<rect x="209" y="147" width="4" height="6" fill="#fff"/>
<rect x="211" y="155" width="1" height="4" fill="#fff"/>
<rect x="215" y="147" width="4" height="6" fill="#fff"/>
<rect x="217" y="155" width="1" height="4" fill="#fff"/>
<rect x="226" y="147" width="11" height="1" fill="#000"/>
<rect x="226" y="147" width="1" height="10" fill="#000"/>
<rect x="226" y="156" width="4" height="1" fill="#000"/>
<rect x="229" y="154" width="1" height="7" fill="#000"/>
<rect x="229" y="154" width="5" height="1" fill="#000"/>
<rect x="233" y="154" width="1" height="3" fill="#000"/>
<rect x="233" y="156" width="4" height="1" fill="#000"/>
<rect x="236" y="145" width="4" height="16" fill="#000"/>
<rect x="239" y="147" width="9" height="1" fill="#000"/>
<rect x="239" y="154" width="9" height="1" fill="#000"/>
<rect x="247" y="147" width="1" height="8" fill="#000"/>
<rect x="21" y="166" width="9" height="1" fill="#000"/>
<rect x="21" y="173" width="9" height="1" fill="#000"/>
<rect x="29" y="162" width="1" height="18" fill="#000"/>
<rect x="30" y="164" width="3" height="16" fill="#000"/>
<rect x="30" y="165" width="1" height="1" fill="#fff"/>
<rect x="32" y="165" width="11" height="1" fill="#000"/>
<rect x="42" y="165" width="1" height="10" fill="#000"/>
<rect x="40" y="174" width="3" height="1" fill="#000"/>
<rect x="40" y="172" width="1" height="8" fill="#000"/>
<rect x="35" y="172" width="6" height="1" fill="#000"/>
<rect x="35" y="172" width="1" height="4" fill="#000"/>
<rect x="32" y="175" width="4" height="1" fill="#000"/>
<rect x="48" y="164" width="174" height="15" fill="#000"/>
<rect x="47" y="165" width="1" height="8" fill="#000"/>
<rect x="50" y="164" width="1" height="1" fill="#fff"/>
<rect x="53" y="164" width="1" height="1" fill="#fff"/>
<rect x="56" y="164" width="1" height="1" fill="#fff"/>
<rect x="59" y="164" width="1" height="1" fill="#fff"/>
<rect x="62" y="164" width="1" height="1" fill="#fff"/>
<rect x="65" y="164" width="1" height="1" fill="#fff"/>
<rect x="68" y="164" width="1" height="1" fill="#fff"/>
<rect x="71" y="164" width="1" height="1" fill="#fff"/>
<rect x="74" y="164" width="1" height="1" fill="#fff"/>
<rect x="77" y="164" width="1" height="1" fill="#fff"/>
<rect x="79" y="164" width="1" height="1" fill="#fff"/>
<rect x="82" y="164" width="1" height="1" fill="#fff"/>
<rect x="85" y="164" width="1" height="1" fill="#fff"/>
<rect x="88" y="164" width="1" height="1" fill="#fff"/>
<rect x="91" y="164" width="1" height="1" fill="#fff"/>
<rect x="94" y="164" width="1" height="1" fill="#fff"/>
<rect x="97" y="164" width="1" height="1" fill="#fff"/>
<rect x="100" y="164" width="1" height="1" fill="#fff"/>
<rect x="103" y="164" width="1" height="1" fill="#fff"/>
<rect x="106" y="164" width="1" height="1" fill="#fff"/>
<rect x="109" y="164" width="1" height="1" fill="#fff"/>
<rect x="112" y="164" width="1" height="1" fill="#fff"/>
<rect x="115" y="164" width="1" height="1" fill="#fff"/>
<rect x="118" y="164" width="1" height="1" fill="#fff"/>
<rect x="121" y="164" width="1" height="1" fill="#fff"/>
<rect x="124" y="164" width="1" height="1" fill="#fff"/>
<rect x="127" y="164" width="1" height="1" fill="#fff"/>
<rect x="130" y="164" width="1" height="1" fill="#fff"/>
<rect x="133" y="164" width="1" height="1" fill="#fff"/>
<rect x="135" y="164" width="1" height="1" fill="#fff"/>
<rect x="138" y="164" width="1" height="1" fill="#fff"/>
<rect x="141" y="164" width="1" height="1" fill="#fff"/>
<rect x="144" y="164" width="1" height="1" fill="#fff"/>
<rect x="147" y="164" width="1" height="1" fill="#fff"/>
<rect x="150" y="164" width="1" height="1" fill="#fff"/>
<rect x="153" y="164" width="1" height="1" fill="#fff"/>
<rect x="156" y="164" width="1" height="1" fill="#fff"/>
<rect x="159" y="164" width="1" height="1" fill="#fff"/>
<rect x="162" y="164" width="1" height="1" fill="#fff"/>
<rect x="165" y="164" width="1" height="1" fill="#fff"/>
<rect x="168" y="164" width="1" height="1" fill="#fff"/>
<rect x="171" y="164" width="1" height="1" fill="#fff"/>
<rect x="174" y="164" width="1" height="1" fill="#fff"/>
<rect x="177" y="164" width="1" height="1" fill="#fff"/>
<rect x="180" y="164" width="1" height="1" fill="#fff"/>
<rect x="183" y="164" width="1" height="1" fill="#fff"/>
<rect x="186" y="164" width="1" height="1" fill="#fff"/>
<rect x="188" y="164" width="1" height="1" fill="#fff"/>
<rect x="191" y="164" width="1" height="1" fill="#fff"/>
<rect x="194" y="164" width="1" height="1" fill="#fff"/>
<rect x="197" y="164" width="1" height="1" fill="#fff"/>
<rect x="200" y="164" width="1" height="1" fill="#fff"/>
<rect x="203" y="164" width="1" height="1" fill="#fff"/>
<rect x="206" y="164" width="1" height="1" fill="#fff"/>
<rect x="209" y="164" width="1" height="1" fill="#fff"/>
<rect x="212" y="164" width="1" height="1" fill="#fff"/>
<rect x="215" y="164" width="1" height="1" fill="#fff"/>
<rect x="218" y="164" width="1" height="1" fill="#fff"/>
<rect x="50" y="166" width="4" height="6" fill="#fff"/>
<rect x="52" y="174" width="1" height="4" fill="#fff"/>
<rect x="56" y="166" width="4" height="6" fill="#fff"/>
<rect x="58" y="174" width="1" height="4" fill="#fff"/>
<rect x="62" y="166" width="4" height="6" fill="#fff"/>
<rect x="64" y="174" width="1" height="4" fill="#fff"/>
<rect x="68" y="166" width="4" height="6" fill="#fff"/>
<rect x="70" y="174" width="1" height="4" fill="#fff"/>
<rect x="74" y="166" width="4" height="6" fill="#fff"/>
<rect x="76" y="174" width="1" height="4" fill="#fff"/>
<rect x="76" y="172" width="1" height="2" fill="#fff"/>
<rect x="76" y="165" width="1" height="1" fill="#fff"/>
<rect x="79" y="166" width="4" height="6" fill="#fff"/>
<rect x="81" y="174" width="1" height="4" fill="#fff"/>
<rect x="81" y="172" width="1" height="2" fill="#fff"/>
<rect x="81" y="165" width="1" height="1" fill="#fff"/>
<rect x="85" y="166" width="4" height="6" fill="#fff"/>
<rect x="87" y="174" width="1" height="4" fill="#fff"/>
<rect x="91" y="166" width="4" height="6" fill="#fff"/>
<rect x="93" y="174" width="1" height="4" fill="#fff"/>
<rect x="97" y="166" width="4" height="6" fill="#fff"/>
<rect x="99" y="174" width="1" height="4" fill="#fff"/>
<rect x="103" y="166" width="4" height="6" fill="#fff"/>
<rect x="105" y="174" width="1" height="4" fill="#fff"/>
<rect x="109" y="166" width="4" height="6" fill="#fff"/>
<rect x="111" y="174" width="1" height="4" fill="#fff"/>
<rect x="115" y="166" width="4" height="6" fill="#fff"/>
<rect x="117" y="174" width="1" height="4" fill="#fff"/>
<rect x="121" y="166" width="4" height="6" fill="#fff"/>
<rect x="123" y="174" width="1" height="4" fill="#fff"/>
<rect x="127" y="166" width="4" height="6" fill="#fff"/>
<rect x="129" y="174" width="1" height="4" fill="#fff"/>
<rect x="133" y="166" width="4" height="6" fill="#fff"/>
<rect x="135" y="174" width="1" height="4" fill="#fff"/>
<rect x="138" y="166" width="4" height="6" fill="#fff"/>
<rect x="140" y="174" width="1" height="4" fill="#fff"/>
<rect x="144" y="166" width="4" height="6" fill="#fff"/>
<rect x="146" y="174" width="1" height="4" fill="#fff"/>
<rect x="150" y="166" width="4" height="6" fill="#fff"/>
<rect x="152" y="174" width="1" height="4" fill="#fff"/>
<rect x="156" y="166" width="4" height="6" fill="#fff"/>
<rect x="158" y="174" width="1" height="4" fill="#fff"/>
<rect x="162" y="166" width="4" height="6" fill="#fff"/>
<rect x="164" y="174" width="1" height="4" fill="#fff"/>
<rect x="168" y="166" width="4" height="6" fill="#fff"/>
<rect x="170" y="174" width="1" height="4" fill="#fff"/>
<rect x="174" y="166" width="4" height="6" fill="#fff"/>
<rect x="176" y="174" width="1" height="4" fill="#fff"/>
<rect x="180" y="166" width="4" height="6" fill="#fff"/>
<rect x="182" y="174" width="1" height="4" fill="#fff"/>
<rect x="182" y="172" width="1" height="2" fill="#fff"/>
<rect x="182" y="165" width="1" height="1" fill="#fff"/>
<rect x="186" y="166" width="4" height="6" fill="#fff"/>
<rect x="188" y="174" width="1" height="4" fill="#fff"/>
<rect x="188" y="172" width="1" height="2" fill="#fff"/>
<rect x="188" y="165" width="1" height="1" fill="#fff"/>
<rect x="191" y="166" width="4" height="6" fill="#fff"/>
<rect x="193" y="174" width="1" height="4" fill="#fff"/>
<rect x="197" y="166" width="4" height="6" fill="#fff"/>
<rect x="199" y="174" width="1" height="4" fill="#fff"/>
<rect x="203" y="166" width="4" height="6" fill="#fff"/>
<rect x="205" y="174" width="1" height="4" fill="#fff"/>
<rect x="209" y="166" width="4" height="6" fill="#fff"/>
<rect x="211" y="174" width="1" height="4" fill="#fff"/>
<rect x="215" y="166" width="4" height="6" fill="#fff"/>
<rect x="217" y="174" width="1" height="4" fill="#fff"/>
<rect x="226" y="166" width="11" height="1" fill="#000"/>
<rect x="226" y="166" width="1" height="10" fill="#000"/>
<rect x="226" y="175" width="4" height="1" fill="#000"/>
<rect x="229" y="173" width="1" height="7" fill="#000"/>
<rect x="229" y="173" width="5" height="1" fill="#000"/>
<rect x="233" y="173" width="1" height="3" fill="#000"/>
<rect x="233" y="175" width="4" height="1" fill="#000"/>
<rect x="236" y="164" width="4" height="16" fill="#000"/>
<rect x="239" y="166" width="9" height="1" fill="#000"/>
<rect x="239" y="173" width="9" height="1" fill="#000"/>
<rect x="247" y="166" width="1" height="8" fill="#000"/>
<rect x="21" y="185" width="9" height="1" fill="#000"/>
<rect x="21" y="192" width="9" height="1" fill="#000"/>
<rect x="29" y="181" width="1" height="18" fill="#000"/>
<rect x="30" y="183" width="3" height="16" fill="#000"/>
<rect x="30" y="184" width="1" height="1" fill="#fff"/>
<rect x="32" y="184" width="11" height="1" fill="#000"/>
<rect x="42" y="184" width="1" height="10" fill="#000"/>
<rect x="40" y="193" width="3" height="1" fill="#000"/>
<rect x="40" y="191" width="1" height="8" fill="#000"/>
<rect x="35" y="191" width="6" height="1" fill="#000"/>
<rect x="35" y="191" width="1" height="4" fill="#000"/>
<rect x="32" y="194" width="4" height="1" fill="#000"/>
<rect x="48" y="183" width="174" height="15" fill="#000"/>
<rect x="47" y="184" width="1" height="8" fill="#000"/>
<rect x="50" y="183" width="1" height="1" fill="#fff"/>
<rect x="53" y="183" width="1" height="1" fill="#fff"/>
<rect x="56" y="183" width="1" height="1" fill="#fff"/>
<rect x="59" y="183" width="1" height="1" fill="#fff"/>
<rect x="62" y="183" width="1" height="1" fill="#fff"/>
<rect x="65" y="183" width="1" height="1" fill="#fff"/>
<rect x="68" y="183" width="1" height="1" fill="#fff"/>
<rect x="71" y="183" width="1" height="1" fill="#fff"/>
<rect x="74" y="183" width="1" height="1" fill="#fff"/>
<rect x="77" y="183" width="1" height="1" fill="#fff"/>
<rect x="79" y="183" width="1" height="1" fill="#fff"/>
<rect x="82" y="183" width="1" height="1" fill="#fff"/>
<rect x="85" y="183" width="1" height="1" fill="#fff"/>
<rect x="88" y="183" width="1" height="1" fill="#fff"/>
<rect x="91" y="183" width="1" height="1" fill="#fff"/>
<rect x="94" y="183" width="1" height="1" fill="#fff"/>
<rect x="97" y="183" width="1" height="1" fill="#fff"/>
<rect x="100" y="183" width="1" height="1" fill="#fff"/>
<rect x="103" y="183" width="1" height="1" fill="#fff"/>
<rect x="106" y="183" width="1" height="1" fill="#fff"/>
<rect x="109" y="183" width="1" height="1" fill="#fff"/>
<rect x="112" y="183" width="1" height="1" fill="#fff"/>
<rect x="115" y="183" width="1" height="1" fill="#fff"/>
<rect x="118" y="183" width="1" height="1" fill="#fff"/>
<rect x="121" y="183" width="1" height="1" fill="#fff"/>
<rect x="124" y="183" width="1" height="1" fill="#fff"/>
<rect x="127" y="183" width="1" height="1" fill="#fff"/>
<rect x="130" y="183" width="1" height="1" fill="#fff"/>
<rect x="133" y="183" width="1" height="1" fill="#fff"/>
<rect x="135" y="183" width="1" height="1" fill="#fff"/>
<rect x="138" y="183" width="1" height="1" fill="#fff"/>
<rect x="141" y="183" width="1" height="1" fill="#fff"/>
<rect x="144" y="183" width="1" height="1" fill="#fff"/>
<rect x="147" y="183" width="1" height="1" fill="#fff"/>
<rect x="150" y="183" width="1" height="1" fill="#fff"/>
<rect x="153" y="183" width="1" height="1" fill="#fff"/>
<rect x="156" y="183" width="1" height="1" fill="#fff"/>
<rect x="159" y="183" width="1" height="1" fill="#fff"/>
<rect x="162" y="183" width="1" height="1" fill="#fff"/>
<rect x="165" y="183" width="1" height="1" fill="#fff"/>
<rect x="168" y="183" width="1" height="1" fill="#fff"/>
<rect x="171" y="183" width="1" height="1" fill="#fff"/>
<rect x="174" y="183" width="1" height="1" fill="#fff"/>
<rect x="177" y="183" width="1" height="1" fill="#fff"/>
<rect x="180" y="183" width="1" height="1" fill="#fff"/>
<rect x="183" y="183" width="1" height="1" fill="#fff"/>
<rect x="186" y="183" width="1" height="1" fill="#fff"/>
<rect x="188" y="183" width="1" height="1" fill="#fff"/>
<rect x="191" y="183" width="1" height="1" fill="#fff"/>
<rect x="194" y="183" width="1" height="1" fill="#fff"/>
<rect x="197" y="183" width="1" height="1" fill="#fff"/>
<rect x="200" y="183" width="1" height="1" fill="#fff"/>
<rect x="203" y="183" width="1" height="1" fill="#fff"/>
<rect x="206" y="183" width="1" height="1" fill="#fff"/>
<rect x="209" y="183" width="1" height="1" fill="#fff"/>
<rect x="212" y="183" width="1" height="1" fill="#fff"/>
<rect x="215" y="183" width="1" height="1" fill="#fff"/>
<rect x="218" y="183" width="1" height="1" fill="#fff"/>
<rect x="50" y="185" width="4" height="6" fill="#fff"/>
<rect x="52" y="193" width="1" height="4" fill="#fff"/>
<rect x="56" y="185" width="4" height="6" fill="#fff"/>
<rect x="58" y="193" width="1" height="4" fill="#fff"/>
<rect x="62" y="185" width="4" height="6" fill="#fff"/>
<rect x="64" y="193" width="1" height="4" fill="#fff"/>
<rect x="68" y="185" width="4" height="6" fill="#fff"/>
<rect x="70" y="193" width="1" height="4" fill="#fff"/>
<rect x="74" y="185" width="4" height="6" fill="#fff"/>
<rect x="76" y="193" width="1" height="4" fill="#fff"/>
<rect x="76" y="191" width="1" height="2" fill="#fff"/>
<rect x="76" y="184" width="1" height="1" fill="#fff"/>
<rect x="79" y="185" width="4" height="6" fill="#fff"/>
<rect x="81" y="193" width="1" height="4" fill="#fff"/>
<rect x="81" y="191" width="1" height="2" fill="#fff"/>
<rect x="81" y="184" width="1" height="1" fill="#fff"/>
<rect x="85" y="185" width="4" height="6" fill="#fff"/>
<rect x="87" y="193" width="1" height="4" fill="#fff"/>
<rect x="91" y="185" width="4" height="6" fill="#fff"/>
<rect x="93" y="193" width="1" height="4" fill="#fff"/>
<rect x="97" y="185" width="4" height="6" fill="#fff"/>
<rect x="99" y="193" width="1" height="4" fill="#fff"/>
<rect x="103" y="185" width="4" height="6" fill="#fff"/>
<rect x="105" y="193" width="1" height="4" fill="#fff"/>
<rect x="109" y="185" width="4" height="6" fill="#fff"/>
<rect x="111" y="193" width="1" height="4" fill="#fff"/>
<rect x="115" y="185" width="4" height="6" fill="#fff"/>
<rect x="117" y="193" width="1" height="4" fill="#fff"/>
<rect x="121" y="185" width="4" height="6" fill="#fff"/>
<rect x="123" y="193" width="1" height="4" fill="#fff"/>
<rect x="127" y="185" width="4" height="6" fill="#fff"/>
<rect x="129" y="193" width="1" height="4" fill="#fff"/>
<rect x="133" y="185" width="4" height="6" fill="#fff"/>
<rect x="135" y="193" width="1" height="4" fill="#fff"/>
<rect x="138" y="185" width="4" height="6" fill="#fff"/>
<rect x="140" y="193" width="1" height="4" fill="#fff"/>
<rect x="144" y="185" width="4" height="6" fill="#fff"/>
<rect x="146" y="193" width="1" height="4" fill="#fff"/>
<rect x="150" y="185" width="4" height="6" fill="#fff"/>
<rect x="152" y="193" width="1" height="4" fill="#fff"/>
<rect x="156" y="185" width="4" height="6" fill="#fff"/>
<rect x="158" y="193" width="1" height="4" fill="#fff"/>
<rect x="162" y="185" width="4" height="6" fill="#fff"/>
<rect x="164" y="193" width="1" height="4" fill="#fff"/>
<rect x="168" y="185" width="4" height="6" fill="#fff"/>
<rect x="170" y="193" width="1" height="4" fill="#fff"/>
<rect x="174" y="185" width="4" height="6" fill="#fff"/>
<rect x="176" y="193" width="1" height="4" fill="#fff"/>
<rect x="180" y="185" width="4" height="6" fill="#fff"/>
<rect x="182" y="193" width="1" height="4" fill="#fff"/>
<rect x="182" y="191" width="1" height="2" fill="#fff"/>
<rect x="182" y="184" width="1" height="1" fill="#fff"/>
<rect x="186" y="185" width="4" height="6" fill="#fff"/>
<rect x="188" y="193" width="1" height="4" fill="#fff"/>
<rect x="188" y="191" width="1" height="2" fill="#fff"/>
<rect x="188" y="184" width="1" height="1" fill="#fff"/>
<rect x="191" y="185" width="4" height="6" fill="#fff"/>
<rect x="193" y="193" width="1" height="4" fill="#fff"/>
<rect x="197" y="185" width="4" height="6" fill="#fff"/>
<rect x="199" y="193" width="1" height="4" fill="#fff"/>
<rect x="203" y="185" width="4" height="6" fill="#fff"/>
<rect x="205" y="193" width="1" height="4" fill="#fff"/>
<rect x="209" y="185" width="4" height="6" fill="#fff"/>
<rect x="211" y="193" width="1" height="4" fill="#fff"/>
<rect x="215" y="185" width="4" height="6" fill="#fff"/>
<rect x="217" y="193" width="1" height="4" fill="#fff"/>
<rect x="226" y="185" width="11" height="1" fill="#000"/>
<rect x="226" y="185" width="1" height="10" fill="#000"/>
<rect x="226" y="194" width="4" height="1" fill="#000"/>
<rect x="229" y="192" width="1" height="7" fill="#000"/>
<rect x="229" y="192" width="5" height="1" fill="#000"/>
<rect x="233" y="192" width="1" height="3" fill="#000"/>
<rect x="233" y="194" width="4" height="1" fill="#000"/>
<rect x="236" y="183" width="4" height="16" fill="#000"/>
<rect x="239" y="185" width="9" height="1" fill="#000"/>
<rect x="239" y="192" width="9" height="1" fill="#000"/>
<rect x="247" y="185" width="1" height="8" fill="#000"/>
<rect x="21" y="141" width="226" height="1" fill="#000"/>
<rect x="21" y="143" width="226" height="1" fill="#000"/>
<rect x="21" y="161" width="226" height="1" fill="#000"/>
<rect x="21" y="162" width="226" height="1" fill="#000"/>
<rect x="21" y="180" width="226" height="1" fill="#000"/>
<rect x="21" y="181" width="226" height="1" fill="#000"/>
<rect x="21" y="199" width="226" height="1" fill="#000"/>
<polygon points="106,151 163,151 166,154 166,169 163,172 106,172 103,169 103,154" fill="#000"/>
<polygon points="108,154 161,154 162,155 162,168 161,169 108,169 107,168 107,155" fill="#fff"/>
<path d="M111.50,155.50 L115.25,155.50 L116.50,156.58 L116.50,158.74 L115.25,159.82 L111.50,159.82 M115.25,159.82 L116.50,160.90 L116.50,163.42 L115.25,164.50 L111.50,164.50 L111.50,155.50 M119.50,164.50 L123.00,155.50 L126.50,164.50 M120.90,161.08 L125.10,161.08 M128.50,164.50 L128.50,155.50 L134.50,164.50 L134.50,155.50 M138.50,155.50 L138.50,164.50 M144.50,155.50 L138.50,161.08 M140.60,159.10 L144.50,164.50 M154.50,158.20 L157.50,155.50 M157.50,155.50 L157.50,164.50" fill="none" stroke="#000" stroke-width="1.05" stroke-linejoin="miter" shape-rendering="geometricPrecision"/>
<rect x="16" y="208" width="14" height="7" fill="#000"/>
<rect x="17" y="209" width="1" height="5" fill="#fff"/>
<rect x="22" y="209" width="1" height="5" fill="#fff"/>
<rect x="28" y="209" width="1" height="5" fill="#fff"/>
<rect x="17" y="213" width="12" height="1" fill="#fff"/>
<polygon points="30,209.5 34,209.5 45,206.2 45,215.8 34,212.5 30,212.5" fill="#000" shape-rendering="geometricPrecision"/>
<polygon points="46,201 78,201 80,203 80,218 78,220 46,220 44,218 44,203" fill="#000"/>
<polygon points="47,204 77,204 78,205 78,217 77,218 47,218 46,217 46,205" fill="#fff"/>
<polygon points="34.5,211 47,207.8 47,214.2" fill="#fff" shape-rendering="geometricPrecision"/>
<path d="M54.50,205.50 L54.50,212.30 L53.60,213.50 L52.40,213.50 L51.50,211.90 M59.50,207.90 L61.50,205.50 M61.50,205.50 L61.50,213.50 M68.50,205.50 L70.50,207.90 L70.50,211.10 L68.50,213.50 L66.50,211.10 L66.50,207.90 L68.50,205.50" fill="none" stroke="#000" stroke-width="1.05" stroke-linejoin="miter" shape-rendering="geometricPrecision"/>
<rect x="16" y="225" width="14" height="7" fill="#000"/>
<rect x="17" y="226" width="1" height="5" fill="#fff"/>
<rect x="22" y="226" width="1" height="5" fill="#fff"/>
<rect x="28" y="226" width="1" height="5" fill="#fff"/>
<polygon points="30,227.0 34,227.0 44,223.7 44,233.3 34,230.0 30,230.0" fill="#000" shape-rendering="geometricPrecision"/>
<polygon points="45,220 67,220 69,222 69,236 67,238 45,238 43,236 43,222" fill="#000"/>
<polygon points="46,223 66,223 67,224 67,235 66,236 46,236 45,235 45,224" fill="#fff"/>
<polygon points="34.5,228.5 46,225.3 46,231.7" fill="#fff" shape-rendering="geometricPrecision"/>
<path d="M51.50,223.50 L51.50,231.15 L50.60,232.50 L49.40,232.50 L48.50,230.70 M55.90,231.78 L56.70,232.50 L58.30,232.50 L59.50,229.80 L59.50,224.85 L58.70,223.50 L56.30,223.50 L55.50,224.85 L55.50,227.10 L56.30,228.45 L59.50,228.45" fill="none" stroke="#000" stroke-width="1.05" stroke-linejoin="miter" shape-rendering="geometricPrecision"/>
<rect x="15" y="243" width="14" height="7" fill="#000"/>
<rect x="16" y="244" width="1" height="5" fill="#fff"/>
<rect x="22" y="244" width="1" height="5" fill="#fff"/>
<rect x="27" y="244" width="1" height="5" fill="#fff"/>
<polygon points="29,245.0 33,245.0 44,241.7 44,251.3 33,248.0 29,248.0" fill="#000" shape-rendering="geometricPrecision"/>
<polygon points="45,237 67,237 69,239 69,254 67,256 45,256 43,254 43,239" fill="#000"/>
<polygon points="46,240 66,240 67,241 67,253 66,254 46,254 45,253 45,241" fill="#fff"/>
<polygon points="33.5,246.5 46,243.3 46,249.7" fill="#fff" shape-rendering="geometricPrecision"/>
<path d="M51.50,242.50 L51.50,250.15 L50.60,251.50 L49.40,251.50 L48.50,249.70 M56.30,242.50 L58.70,242.50 L59.50,243.58 L59.50,245.74 L58.70,246.82 L56.30,246.82 L55.50,245.74 L55.50,243.58 L56.30,242.50 M56.30,246.82 L55.50,247.90 L55.50,250.42 L56.30,251.50 L58.70,251.50 L59.50,250.42 L59.50,247.90 L58.70,246.82" fill="none" stroke="#000" stroke-width="1.05" stroke-linejoin="miter" shape-rendering="geometricPrecision"/>
<rect x="15" y="261" width="26" height="7" fill="#000"/>
<rect x="16" y="262" width="1" height="5" fill="#fff"/>
<rect x="17" y="262" width="1" height="5" fill="#fff"/>
<rect x="22" y="262" width="1" height="5" fill="#fff"/>
<rect x="28" y="262" width="1" height="5" fill="#fff"/>
<rect x="34" y="262" width="1" height="5" fill="#fff"/>
<rect x="39" y="262" width="1" height="5" fill="#fff"/>
<rect x="36" y="263" width="2" height="3" fill="#fff"/>
<polygon points="41,263.0 45,263.0 56,259.7 56,269.3 45,266.0 41,266.0" fill="#000" shape-rendering="geometricPrecision"/>
<polygon points="57,256 79,256 81,258 81,272 79,274 57,274 55,272 55,258" fill="#000"/>
<polygon points="58,259 78,259 79,260 79,271 78,272 58,272 57,271 57,260" fill="#fff"/>
<polygon points="45.5,264.5 58,261.3 58,267.7" fill="#fff" shape-rendering="geometricPrecision"/>
<path d="M64.50,260.50 L64.50,267.30 L63.60,268.50 L62.40,268.50 L61.50,266.90 M67.50,260.50 L72.50,260.50 L69.25,268.50" fill="none" stroke="#000" stroke-width="1.05" stroke-linejoin="miter" shape-rendering="geometricPrecision"/>
<rect x="16" y="279" width="31" height="7" fill="#000"/>
<rect x="22" y="280" width="1" height="5" fill="#fff"/>
<rect x="28" y="280" width="1" height="5" fill="#fff"/>
<rect x="33" y="280" width="1" height="5" fill="#fff"/>
<rect x="34" y="280" width="1" height="5" fill="#fff"/>
<rect x="39" y="280" width="1" height="5" fill="#fff"/>
<rect x="40" y="280" width="1" height="5" fill="#fff"/>
<rect x="45" y="280" width="1" height="5" fill="#fff"/>
<rect x="42" y="281" width="2" height="3" fill="#fff"/>
<polygon points="47,281.0 51,281.0 62,277.7 62,287.3 51,284.0 47,284.0" fill="#000" shape-rendering="geometricPrecision"/>
<polygon points="63,273 85,273 87,275 87,290 85,292 63,292 61,290 61,275" fill="#000"/>
<polygon points="64,276 84,276 85,277 85,289 84,290 64,290 63,289 63,277" fill="#fff"/>
<polygon points="51.5,282.5 64,279.3 64,285.7" fill="#fff" shape-rendering="geometricPrecision"/>
<path d="M68.50,277.50 L68.50,285.15 L67.60,286.50 L66.40,286.50 L65.50,284.70 M77.10,278.22 L76.30,277.50 L74.70,277.50 L73.50,280.20 L73.50,285.15 L74.30,286.50 L76.70,286.50 L77.50,285.15 L77.50,282.90 L76.70,281.55 L73.50,281.55" fill="none" stroke="#000" stroke-width="1.05" stroke-linejoin="miter" shape-rendering="geometricPrecision"/>
<rect x="635" y="383" width="14" height="6" fill="#000"/>
<rect x="637" y="384" width="1" height="4" fill="#fff"/>
<rect x="641" y="384" width="1" height="4" fill="#fff"/>
<rect x="642" y="384" width="1" height="4" fill="#fff"/>
<rect x="647" y="384" width="1" height="4" fill="#fff"/>
<polygon points="649,383.5 653,383.5 664,380.7 664,390.3 653,387.5 649,387.5" fill="#000" shape-rendering="geometricPrecision"/>
<polygon points="665,376 687,376 689,378 689,393 687,395 665,395 663,393 663,378" fill="#000"/>
<polygon points="666,379 686,379 687,380 687,392 686,393 666,393 665,392 665,380" fill="#fff"/>
<polygon points="653.5,385.5 666,382.3 666,388.7" fill="#fff" shape-rendering="geometricPrecision"/>
<path d="M671.50,380.50 L671.50,388.15 L670.60,389.50 L669.40,389.50 L668.50,387.70 M676.50,381.85 L677.50,380.50 L680.50,380.50 L681.50,381.85 L681.50,383.74 L680.50,384.82 L678.25,384.82 M680.50,384.82 L681.50,385.90 L681.50,388.15 L680.50,389.50 L677.50,389.50 L676.50,388.15" fill="none" stroke="#000" stroke-width="1.05" stroke-linejoin="miter" shape-rendering="geometricPrecision"/>
<rect x="764" y="328" width="19" height="6" fill="#000"/>
<rect x="770" y="329" width="1" height="4" fill="#fff"/>
<rect x="776" y="329" width="1" height="4" fill="#fff"/>
<rect x="781" y="329" width="1" height="4" fill="#fff"/>
<rect x="778" y="330" width="2" height="2" fill="#fff"/>
<polygon points="759.5,319 764.5,318 773,328 768,328" fill="#000"/>
<polygon points="742,303 763,303 765,305 765,319 763,321 742,321 740,319 740,305" fill="#000"/>
<polygon points="743,306 762,306 763,307 763,318 762,319 743,319 742,318 742,307" fill="#fff"/>
<rect x="745" y="302" width="16" height="1" fill="#000"/>
<polyline points="761.5,318 769.5,327" fill="none" stroke="#fff" stroke-width="1.4" shape-rendering="geometricPrecision"/>
<path d="M746.50,306.50 L746.50,314.15 L745.60,315.50 L744.40,315.50 L743.50,313.70 M752.50,308.12 L753.50,306.50 L756.50,306.50 L757.50,308.12 L757.50,309.92 L752.50,315.50 L757.50,315.50" fill="none" stroke="#000" stroke-width="1.05" stroke-linejoin="miter" shape-rendering="geometricPrecision"/>
<polygon points="530,413 535.5,411 548,421.5 542,421.5" fill="#000"/>
<polygon points="513,396 534,396 536,398 536,413 534,415 513,415 511,413 511,398" fill="#000"/>
<polygon points="514,399 533,399 534,400 534,412 533,413 514,413 513,412 513,400" fill="#fff"/>
<polyline points="532.5,412 543,421" fill="none" stroke="#fff" stroke-width="1.4" shape-rendering="geometricPrecision"/>
<path d="M518.50,400.50 L518.50,408.15 L517.60,409.50 L516.40,409.50 L515.50,407.70 M527.50,400.50 L522.50,400.50 L522.50,404.55 L526.50,404.55 L527.50,405.90 L527.50,408.15 L526.50,409.50 L523.50,409.50 L522.50,408.15" fill="none" stroke="#000" stroke-width="1.05" stroke-linejoin="miter" shape-rendering="geometricPrecision"/>
<rect x="542" y="421" width="7" height="20" fill="#000"/>
<rect x="547" y="422" width="1" height="18" fill="#fff"/>
<rect x="544" y="427" width="4" height="1" fill="#fff"/>
<rect x="544" y="433" width="4" height="1" fill="#fff"/>
<rect x="544" y="439" width="4" height="1" fill="#fff"/>
<rect x="545" y="435" width="2" height="3" fill="#fff"/>
<polygon points="555,405 562,405 560.5,421 556.5,421" fill="#000"/>
<polygon points="548,387 570,387 572,389 572,404 570,406 548,406 546,404 546,389" fill="#000"/>
<polygon points="549,390 569,390 570,391 570,403 569,404 549,404 548,403 548,391" fill="#fff"/>
<polyline points="558.5,403 558.5,413" fill="none" stroke="#fff" stroke-width="1.2" shape-rendering="geometricPrecision"/>
<path d="M554.50,392.50 L554.50,399.30 L553.60,400.50 L552.40,400.50 L551.50,398.90 M562.00,400.50 L562.00,392.50 L557.50,398.10 L563.50,398.10" fill="none" stroke="#000" stroke-width="1.05" stroke-linejoin="miter" shape-rendering="geometricPrecision"/>
<rect x="554" y="421" width="7" height="20" fill="#000"/>
<rect x="555" y="422" width="5" height="1" fill="#fff"/>
<rect x="555" y="427" width="5" height="1" fill="#fff"/>
<rect x="555" y="433" width="5" height="1" fill="#fff"/>
<rect x="555" y="439" width="5" height="1" fill="#fff"/>
<rect x="556" y="435" width="3" height="3" fill="#fff"/>
<polygon points="740,487 746,485 755,494 749,494" fill="#000"/>
<polygon points="724,469 745,469 747,471 747,486 745,488 724,488 722,486 722,471" fill="#000"/>
<polygon points="725,472 744,472 745,473 745,485 744,486 725,486 724,485 724,473" fill="#fff"/>
<polyline points="743.5,485.5 751,493" fill="none" stroke="#fff" stroke-width="1.4" shape-rendering="geometricPrecision"/>
<path d="M730.50,472.50 L730.50,480.15 L729.60,481.50 L728.40,481.50 L727.50,479.70 M735.50,475.20 L737.50,472.50 M737.50,472.50 L737.50,481.50" fill="none" stroke="#000" stroke-width="1.05" stroke-linejoin="miter" shape-rendering="geometricPrecision"/>
<rect x="749" y="494" width="26" height="7" fill="#000"/>
<rect x="750" y="499" width="24" height="1" fill="#fff"/>
<rect x="750" y="495" width="1" height="5" fill="#fff"/>
<rect x="756" y="495" width="1" height="5" fill="#fff"/>
<rect x="762" y="495" width="1" height="5" fill="#fff"/>
<rect x="768" y="495" width="1" height="5" fill="#fff"/>
<rect x="773" y="495" width="1" height="5" fill="#fff"/>
<rect x="769" y="495" width="5" height="5" fill="#fff"/>
<rect x="770" y="496" width="3" height="3" fill="#000"/>
<rect x="771" y="497" width="1" height="1" fill="#fff"/>
<polygon points="307,186 350,186 353,189 353,232 350,235 308,235 304,231 304,189" fill="#000"/>
<polygon points="181,428 224,428 227,431 227,474 224,477 182,477 178,473 178,431" fill="#000"/>
<polygon points="465,414 508,414 511,417 511,460 508,463 466,463 462,459 462,417" fill="#000"/>
<rect x="151" y="309" width="74" height="75" fill="#000"/>
<rect x="174" y="340" width="28" height="14" fill="#fff"/>
<rect x="174" y="353" width="1" height="1" fill="#000"/>
<path d="M180.50,344.85 L179.50,343.50 L176.50,343.50 L175.50,345.30 L175.50,350.70 L176.50,352.50 L179.50,352.50 L180.50,351.15 M185.50,352.50 L185.50,343.50 L188.70,343.50 L189.50,344.85 L189.50,347.10 L188.70,348.45 L185.50,348.45 M194.50,343.50 L194.50,351.15 L195.75,352.50 L198.25,352.50 L199.50,351.15 L199.50,343.50" fill="none" stroke="#000" stroke-width="1.05" stroke-linejoin="miter" shape-rendering="geometricPrecision"/>
<rect x="47" y="338" width="65" height="66" fill="#000"/>
<rect x="50" y="342" width="3" height="3" fill="#fff"/>
<rect x="51" y="341" width="1" height="1" fill="#fff"/>
<rect x="50" y="348" width="3" height="3" fill="#fff"/>
<rect x="51" y="347" width="1" height="1" fill="#fff"/>
<rect x="50" y="393" width="3" height="3" fill="#fff"/>
<rect x="51" y="392" width="1" height="1" fill="#fff"/>
<rect x="50" y="399" width="3" height="3" fill="#fff"/>
<rect x="51" y="398" width="1" height="1" fill="#fff"/>
<rect x="50" y="342" width="3" height="3" fill="#fff"/>
<rect x="51" y="341" width="1" height="1" fill="#fff"/>
<rect x="56" y="342" width="3" height="3" fill="#fff"/>
<rect x="57" y="341" width="1" height="1" fill="#fff"/>
<rect x="100" y="342" width="3" height="3" fill="#fff"/>
<rect x="101" y="341" width="1" height="1" fill="#fff"/>
<rect x="106" y="342" width="3" height="3" fill="#fff"/>
<rect x="107" y="341" width="1" height="1" fill="#fff"/>
<rect x="56" y="342" width="3" height="3" fill="#fff"/>
<rect x="57" y="341" width="1" height="1" fill="#fff"/>
<rect x="56" y="348" width="3" height="3" fill="#fff"/>
<rect x="57" y="347" width="1" height="1" fill="#fff"/>
<rect x="56" y="393" width="3" height="3" fill="#fff"/>
<rect x="57" y="392" width="1" height="1" fill="#fff"/>
<rect x="56" y="399" width="3" height="3" fill="#fff"/>
<rect x="57" y="398" width="1" height="1" fill="#fff"/>
<rect x="50" y="348" width="3" height="3" fill="#fff"/>
<rect x="51" y="347" width="1" height="1" fill="#fff"/>
<rect x="56" y="348" width="3" height="3" fill="#fff"/>
<rect x="57" y="347" width="1" height="1" fill="#fff"/>
<rect x="100" y="348" width="3" height="3" fill="#fff"/>
<rect x="101" y="347" width="1" height="1" fill="#fff"/>
<rect x="106" y="348" width="3" height="3" fill="#fff"/>
<rect x="107" y="347" width="1" height="1" fill="#fff"/>
<rect x="61" y="342" width="3" height="3" fill="#fff"/>
<rect x="62" y="341" width="1" height="1" fill="#fff"/>
<rect x="61" y="348" width="3" height="3" fill="#fff"/>
<rect x="62" y="347" width="1" height="1" fill="#fff"/>
<rect x="61" y="393" width="3" height="3" fill="#fff"/>
<rect x="62" y="392" width="1" height="1" fill="#fff"/>
<rect x="61" y="399" width="3" height="3" fill="#fff"/>
<rect x="62" y="398" width="1" height="1" fill="#fff"/>
<rect x="50" y="353" width="3" height="3" fill="#fff"/>
<rect x="51" y="352" width="1" height="1" fill="#fff"/>
<rect x="56" y="353" width="3" height="3" fill="#fff"/>
<rect x="57" y="352" width="1" height="1" fill="#fff"/>
<rect x="100" y="353" width="3" height="3" fill="#fff"/>
<rect x="101" y="352" width="1" height="1" fill="#fff"/>
<rect x="106" y="353" width="3" height="3" fill="#fff"/>
<rect x="107" y="352" width="1" height="1" fill="#fff"/>
<rect x="67" y="342" width="3" height="3" fill="#fff"/>
<rect x="68" y="341" width="1" height="1" fill="#fff"/>
<rect x="67" y="348" width="3" height="3" fill="#fff"/>
<rect x="68" y="347" width="1" height="1" fill="#fff"/>
<rect x="67" y="393" width="3" height="3" fill="#fff"/>
<rect x="68" y="392" width="1" height="1" fill="#fff"/>
<rect x="67" y="399" width="3" height="3" fill="#fff"/>
<rect x="68" y="398" width="1" height="1" fill="#fff"/>
<rect x="50" y="359" width="3" height="3" fill="#fff"/>
<rect x="51" y="358" width="1" height="1" fill="#fff"/>
<rect x="56" y="359" width="3" height="3" fill="#fff"/>
<rect x="57" y="358" width="1" height="1" fill="#fff"/>
<rect x="100" y="359" width="3" height="3" fill="#fff"/>
<rect x="101" y="358" width="1" height="1" fill="#fff"/>
<rect x="106" y="359" width="3" height="3" fill="#fff"/>
<rect x="107" y="358" width="1" height="1" fill="#fff"/>
<rect x="72" y="342" width="3" height="3" fill="#fff"/>
<rect x="73" y="341" width="1" height="1" fill="#fff"/>
<rect x="72" y="348" width="3" height="3" fill="#fff"/>
<rect x="73" y="347" width="1" height="1" fill="#fff"/>
<rect x="72" y="393" width="3" height="3" fill="#fff"/>
<rect x="73" y="392" width="1" height="1" fill="#fff"/>
<rect x="72" y="399" width="3" height="3" fill="#fff"/>
<rect x="73" y="398" width="1" height="1" fill="#fff"/>
<rect x="50" y="364" width="3" height="3" fill="#fff"/>
<rect x="51" y="363" width="1" height="1" fill="#fff"/>
<rect x="56" y="364" width="3" height="3" fill="#fff"/>
<rect x="57" y="363" width="1" height="1" fill="#fff"/>
<rect x="100" y="364" width="3" height="3" fill="#fff"/>
<rect x="101" y="363" width="1" height="1" fill="#fff"/>
<rect x="106" y="364" width="3" height="3" fill="#fff"/>
<rect x="107" y="363" width="1" height="1" fill="#fff"/>
<rect x="78" y="342" width="3" height="3" fill="#fff"/>
<rect x="79" y="341" width="1" height="1" fill="#fff"/>
<rect x="78" y="348" width="3" height="3" fill="#fff"/>
<rect x="79" y="347" width="1" height="1" fill="#fff"/>
<rect x="78" y="393" width="3" height="3" fill="#fff"/>
<rect x="79" y="392" width="1" height="1" fill="#fff"/>
<rect x="78" y="399" width="3" height="3" fill="#fff"/>
<rect x="79" y="398" width="1" height="1" fill="#fff"/>
<rect x="50" y="370" width="3" height="3" fill="#fff"/>
<rect x="51" y="369" width="1" height="1" fill="#fff"/>
<rect x="56" y="370" width="3" height="3" fill="#fff"/>
<rect x="57" y="369" width="1" height="1" fill="#fff"/>
<rect x="100" y="370" width="3" height="3" fill="#fff"/>
<rect x="101" y="369" width="1" height="1" fill="#fff"/>
<rect x="106" y="370" width="3" height="3" fill="#fff"/>
<rect x="107" y="369" width="1" height="1" fill="#fff"/>
<rect x="84" y="342" width="3" height="3" fill="#fff"/>
<rect x="85" y="341" width="1" height="1" fill="#fff"/>
<rect x="84" y="348" width="3" height="3" fill="#fff"/>
<rect x="85" y="347" width="1" height="1" fill="#fff"/>
<rect x="84" y="393" width="3" height="3" fill="#fff"/>
<rect x="85" y="392" width="1" height="1" fill="#fff"/>
<rect x="84" y="399" width="3" height="3" fill="#fff"/>
<rect x="85" y="398" width="1" height="1" fill="#fff"/>
<rect x="50" y="376" width="3" height="3" fill="#fff"/>
<rect x="51" y="375" width="1" height="1" fill="#fff"/>
<rect x="56" y="376" width="3" height="3" fill="#fff"/>
<rect x="57" y="375" width="1" height="1" fill="#fff"/>
<rect x="100" y="376" width="3" height="3" fill="#fff"/>
<rect x="101" y="375" width="1" height="1" fill="#fff"/>
<rect x="106" y="376" width="3" height="3" fill="#fff"/>
<rect x="107" y="375" width="1" height="1" fill="#fff"/>
<rect x="89" y="342" width="3" height="3" fill="#fff"/>
<rect x="90" y="341" width="1" height="1" fill="#fff"/>
<rect x="89" y="348" width="3" height="3" fill="#fff"/>
<rect x="90" y="347" width="1" height="1" fill="#fff"/>
<rect x="89" y="393" width="3" height="3" fill="#fff"/>
<rect x="90" y="392" width="1" height="1" fill="#fff"/>
<rect x="89" y="399" width="3" height="3" fill="#fff"/>
<rect x="90" y="398" width="1" height="1" fill="#fff"/>
<rect x="50" y="381" width="3" height="3" fill="#fff"/>
<rect x="51" y="380" width="1" height="1" fill="#fff"/>
<rect x="56" y="381" width="3" height="3" fill="#fff"/>
<rect x="57" y="380" width="1" height="1" fill="#fff"/>
<rect x="100" y="381" width="3" height="3" fill="#fff"/>
<rect x="101" y="380" width="1" height="1" fill="#fff"/>
<rect x="106" y="381" width="3" height="3" fill="#fff"/>
<rect x="107" y="380" width="1" height="1" fill="#fff"/>
<rect x="95" y="342" width="3" height="3" fill="#fff"/>
<rect x="96" y="341" width="1" height="1" fill="#fff"/>
<rect x="95" y="348" width="3" height="3" fill="#fff"/>
<rect x="96" y="347" width="1" height="1" fill="#fff"/>
<rect x="95" y="393" width="3" height="3" fill="#fff"/>
<rect x="96" y="392" width="1" height="1" fill="#fff"/>
<rect x="95" y="399" width="3" height="3" fill="#fff"/>
<rect x="96" y="398" width="1" height="1" fill="#fff"/>
<rect x="50" y="387" width="3" height="3" fill="#fff"/>
<rect x="51" y="386" width="1" height="1" fill="#fff"/>
<rect x="56" y="387" width="3" height="3" fill="#fff"/>
<rect x="57" y="386" width="1" height="1" fill="#fff"/>
<rect x="100" y="387" width="3" height="3" fill="#fff"/>
<rect x="101" y="386" width="1" height="1" fill="#fff"/>
<rect x="106" y="387" width="3" height="3" fill="#fff"/>
<rect x="107" y="386" width="1" height="1" fill="#fff"/>
<rect x="100" y="342" width="3" height="3" fill="#fff"/>
<rect x="101" y="341" width="1" height="1" fill="#fff"/>
<rect x="100" y="348" width="3" height="3" fill="#fff"/>
<rect x="101" y="347" width="1" height="1" fill="#fff"/>
<rect x="100" y="393" width="3" height="3" fill="#fff"/>
<rect x="101" y="392" width="1" height="1" fill="#fff"/>
<rect x="100" y="399" width="3" height="3" fill="#fff"/>
<rect x="101" y="398" width="1" height="1" fill="#fff"/>
<rect x="50" y="392" width="3" height="3" fill="#fff"/>
<rect x="51" y="391" width="1" height="1" fill="#fff"/>
<rect x="56" y="392" width="3" height="3" fill="#fff"/>
<rect x="57" y="391" width="1" height="1" fill="#fff"/>
<rect x="100" y="392" width="3" height="3" fill="#fff"/>
<rect x="101" y="391" width="1" height="1" fill="#fff"/>
<rect x="106" y="392" width="3" height="3" fill="#fff"/>
<rect x="107" y="391" width="1" height="1" fill="#fff"/>
<rect x="106" y="342" width="3" height="3" fill="#fff"/>
<rect x="107" y="341" width="1" height="1" fill="#fff"/>
<rect x="106" y="348" width="3" height="3" fill="#fff"/>
<rect x="107" y="347" width="1" height="1" fill="#fff"/>
<rect x="106" y="393" width="3" height="3" fill="#fff"/>
<rect x="107" y="392" width="1" height="1" fill="#fff"/>
<rect x="106" y="399" width="3" height="3" fill="#fff"/>
<rect x="107" y="398" width="1" height="1" fill="#fff"/>
<rect x="50" y="398" width="3" height="3" fill="#fff"/>
<rect x="51" y="397" width="1" height="1" fill="#fff"/>
<rect x="56" y="398" width="3" height="3" fill="#fff"/>
<rect x="57" y="397" width="1" height="1" fill="#fff"/>
<rect x="100" y="398" width="3" height="3" fill="#fff"/>
<rect x="101" y="397" width="1" height="1" fill="#fff"/>
<rect x="106" y="398" width="3" height="3" fill="#fff"/>
<rect x="107" y="397" width="1" height="1" fill="#fff"/>
<rect x="61" y="353" width="37" height="37" fill="#fff"/>
<polygon points="66,362 94,362 96,364 96,378 94,380 66,380 64,378 64,364" fill="#000"/>
<polygon points="67,364 92,364 93,365 93,377 92,378 67,378 66,377 66,365" fill="#fff"/>
<path d="M68.50,376.50 L68.50,367.50 L73.50,376.50 L73.50,367.50 M77.50,376.50 L77.50,367.50 L80.70,367.50 L81.50,368.85 L81.50,371.10 L80.70,372.45 L77.50,372.45 M86.50,367.50 L86.50,375.15 L87.75,376.50 L90.25,376.50 L91.50,375.15 L91.50,367.50" fill="none" stroke="#000" stroke-width="1.05" stroke-linejoin="miter" shape-rendering="geometricPrecision"/>
<rect x="584" y="414" width="127" height="43" fill="#000"/>
<rect x="587" y="416" width="5" height="1" fill="#fff"/>
<rect x="594" y="416" width="4" height="1" fill="#fff"/>
<rect x="600" y="416" width="4" height="1" fill="#fff"/>
<rect x="606" y="416" width="5" height="1" fill="#fff"/>
<rect x="612" y="416" width="5" height="1" fill="#fff"/>
<rect x="618" y="416" width="5" height="1" fill="#fff"/>
<rect x="625" y="416" width="4" height="1" fill="#fff"/>
<rect x="631" y="416" width="4" height="1" fill="#fff"/>
<rect x="637" y="416" width="5" height="1" fill="#fff"/>
<rect x="643" y="416" width="5" height="1" fill="#fff"/>
<rect x="650" y="416" width="4" height="1" fill="#fff"/>
<rect x="656" y="416" width="4" height="1" fill="#fff"/>
<rect x="662" y="416" width="5" height="1" fill="#fff"/>
<rect x="668" y="416" width="5" height="1" fill="#fff"/>
<rect x="675" y="416" width="4" height="1" fill="#fff"/>
<rect x="680" y="416" width="5" height="1" fill="#fff"/>
<rect x="687" y="416" width="4" height="1" fill="#fff"/>
<rect x="693" y="416" width="5" height="1" fill="#fff"/>
<rect x="699" y="416" width="5" height="1" fill="#fff"/>
<rect x="706" y="416" width="4" height="1" fill="#fff"/>
<polygon points="635,428 660,428 662,430 662,441 660,443 635,443 633,441 633,430" fill="#fff"/>
<path d="M635.50,432.50 L635.50,441.50 M640.50,432.50 L635.50,438.08 M637.25,436.10 L640.50,441.50 M644.50,432.50 L647.50,432.50 L648.50,433.58 L648.50,435.74 L647.50,436.82 L644.50,436.82 M647.50,436.82 L648.50,437.90 L648.50,440.42 L647.50,441.50 L644.50,441.50 L644.50,432.50 M653.50,432.50 L656.50,432.50 L658.50,435.20 L658.50,438.80 L656.50,441.50 L653.50,441.50 L653.50,432.50" fill="none" stroke="#000" stroke-width="1.05" stroke-linejoin="miter" shape-rendering="geometricPrecision"/>
<circle cx="748.6" cy="392.5" r="23" fill="none" stroke="#000" stroke-width="1.1" shape-rendering="geometricPrecision"/>
<rect x="741" y="354" width="16" height="16" fill="#000"/>
<path d="M745.5,355 V404 Q745.5,408 748.5,408 Q751.5,408 751.5,404 V355 Z" fill="#fff" stroke="#000" stroke-width="1" shape-rendering="geometricPrecision"/>
<rect x="746" y="396" width="6" height="1" fill="#000"/>
<rect x="755" y="438" width="31" height="39" fill="#000"/>
<rect x="779" y="434" width="7" height="46" fill="#000"/>
<rect x="782" y="432" width="4" height="51" fill="#000"/>
<rect x="753" y="445" width="3" height="24" fill="#000"/>
<rect x="749" y="447" width="5" height="9" fill="#000"/>
<rect x="750" y="448" width="3" height="7" fill="#fff"/>
<rect x="749" y="458" width="5" height="9" fill="#000"/>
<rect x="750" y="459" width="3" height="7" fill="#fff"/>
<rect x="754" y="455" width="2" height="4" fill="#fff"/>
<rect x="618" y="493" width="112" height="24" fill="#000"/>
<rect x="619" y="494" width="110" height="22" fill="#fff"/>
<rect x="618" y="500" width="112" height="1" fill="#000"/>
<rect x="620" y="497" width="7" height="2" fill="#000"/>
<rect x="622" y="496" width="4" height="1" fill="#000"/>
<rect x="623" y="499" width="2" height="1" fill="#000"/>
<rect x="620" y="503" width="7" height="3" fill="#000"/>
<rect x="629" y="497" width="7" height="2" fill="#000"/>
<rect x="631" y="496" width="4" height="1" fill="#000"/>
<rect x="632" y="499" width="2" height="1" fill="#000"/>
<rect x="629" y="503" width="7" height="3" fill="#000"/>
<rect x="638" y="497" width="7" height="2" fill="#000"/>
<rect x="640" y="496" width="4" height="1" fill="#000"/>
<rect x="641" y="499" width="2" height="1" fill="#000"/>
<rect x="638" y="503" width="7" height="3" fill="#000"/>
<rect x="648" y="497" width="7" height="2" fill="#000"/>
<rect x="650" y="496" width="4" height="1" fill="#000"/>
<rect x="651" y="499" width="2" height="1" fill="#000"/>
<rect x="648" y="503" width="7" height="3" fill="#000"/>
<rect x="657" y="497" width="7" height="2" fill="#000"/>
<rect x="659" y="496" width="4" height="1" fill="#000"/>
<rect x="660" y="499" width="2" height="1" fill="#000"/>
<rect x="657" y="503" width="7" height="3" fill="#000"/>
<rect x="666" y="497" width="7" height="2" fill="#000"/>
<rect x="668" y="496" width="4" height="1" fill="#000"/>
<rect x="669" y="499" width="2" height="1" fill="#000"/>
<rect x="666" y="503" width="7" height="3" fill="#000"/>
<rect x="675" y="497" width="7" height="2" fill="#000"/>
<rect x="677" y="496" width="4" height="1" fill="#000"/>
<rect x="678" y="499" width="2" height="1" fill="#000"/>
<rect x="675" y="503" width="7" height="3" fill="#000"/>
<rect x="684" y="497" width="7" height="2" fill="#000"/>
<rect x="686" y="496" width="4" height="1" fill="#000"/>
<rect x="687" y="499" width="2" height="1" fill="#000"/>
<rect x="684" y="503" width="7" height="3" fill="#000"/>
<rect x="693" y="497" width="7" height="2" fill="#000"/>
<rect x="695" y="496" width="4" height="1" fill="#000"/>
<rect x="696" y="499" width="2" height="1" fill="#000"/>
<rect x="693" y="503" width="7" height="3" fill="#000"/>
<rect x="703" y="497" width="7" height="2" fill="#000"/>
<rect x="705" y="496" width="4" height="1" fill="#000"/>
<rect x="706" y="499" width="2" height="1" fill="#000"/>
<rect x="703" y="503" width="7" height="3" fill="#000"/>
<rect x="712" y="497" width="7" height="2" fill="#000"/>
<rect x="714" y="496" width="4" height="1" fill="#000"/>
<rect x="715" y="499" width="2" height="1" fill="#000"/>
<rect x="712" y="503" width="7" height="3" fill="#000"/>
<rect x="721" y="497" width="7" height="2" fill="#000"/>
<rect x="723" y="496" width="4" height="1" fill="#000"/>
<rect x="724" y="499" width="2" height="1" fill="#000"/>
<rect x="721" y="503" width="7" height="3" fill="#000"/>
<rect x="624" y="507" width="7" height="7" fill="#000"/>
<rect x="625" y="508" width="5" height="5" fill="#fff"/>
<rect x="633" y="507" width="7" height="7" fill="#000"/>
<rect x="634" y="508" width="5" height="5" fill="#fff"/>
<rect x="643" y="507" width="7" height="7" fill="#000"/>
<rect x="644" y="508" width="5" height="5" fill="#fff"/>
<rect x="652" y="507" width="7" height="7" fill="#000"/>
<rect x="653" y="508" width="5" height="5" fill="#fff"/>
<rect x="662" y="507" width="7" height="7" fill="#000"/>
<rect x="663" y="508" width="5" height="5" fill="#fff"/>
<rect x="671" y="507" width="7" height="7" fill="#000"/>
<rect x="672" y="508" width="5" height="5" fill="#fff"/>
<rect x="680" y="507" width="7" height="7" fill="#000"/>
<rect x="681" y="508" width="5" height="5" fill="#fff"/>
<rect x="690" y="507" width="7" height="7" fill="#000"/>
<rect x="691" y="508" width="5" height="5" fill="#fff"/>
<rect x="699" y="507" width="7" height="7" fill="#000"/>
<rect x="700" y="508" width="5" height="5" fill="#fff"/>
<rect x="709" y="507" width="7" height="7" fill="#000"/>
<rect x="710" y="508" width="5" height="5" fill="#fff"/>
<rect x="718" y="507" width="7" height="7" fill="#000"/>
<rect x="719" y="508" width="5" height="5" fill="#fff"/>
<rect x="618" y="507" width="4" height="7" fill="#000"/>
<rect x="619" y="508" width="2" height="5" fill="#fff"/>
<rect x="727" y="507" width="3" height="7" fill="#000"/>
<rect x="728" y="508" width="1" height="5" fill="#fff"/>
</svg>
</body></html>
